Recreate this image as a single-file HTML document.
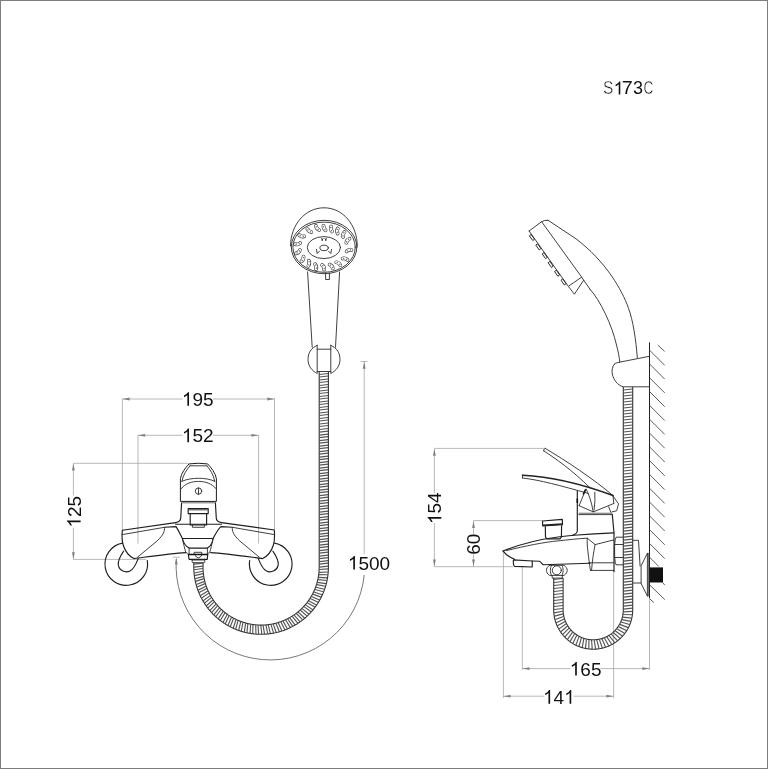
<!DOCTYPE html>
<html><head><meta charset="utf-8"><style>
html,body{margin:0;padding:0;background:#fff;}
svg{display:block;font-family:"Liberation Sans",sans-serif;will-change:transform;}
</style></head><body>
<svg width="768" height="769" viewBox="0 0 768 769">
<rect width="768" height="769" fill="#fff"/>
<rect x="0.5" y="0.5" width="767" height="768" fill="none" stroke="#7d7d7d" stroke-width="1"/>
<text x="603" y="94.4" font-size="18" fill="#111" stroke="#fff" stroke-width="0.4" transform="translate(603 0) scale(0.86 1) translate(-603 0)">S</text>
<path d="M620.31,94.40 L618.72,94.40 L618.72,84.32 C618.35,84.68 617.85,85.05 617.23,85.40 C616.61,85.77 616.05,86.04 615.56,86.23 L615.56,84.70 C616.45,84.28 617.22,83.78 617.88,83.20 C618.54,82.61 619.01,82.05 619.29,81.52 L620.31,81.52 Z" fill="#111"/>
<text x="621.8" y="94.4" font-size="18" fill="#111" transform="translate(621.8 0) scale(1.1 1) translate(-621.8 0)">7</text>
<text x="633.0" y="94.4" font-size="18" fill="#111">3</text>
<text x="643.5" y="94.4" font-size="18" fill="#111" stroke="#fff" stroke-width="0.4" transform="translate(643.5 0) scale(0.75 1) translate(-643.5 0)">C</text>
<path d="M122.4,398.5 V531 M274.5,398.5 V530 M122.4,399 H182.6 M212.9,399 H274.5" stroke="#a2a2a2" stroke-width="0.75" fill="none"/>
<path d="M122.60,399.00 L129.60,397.60 L129.60,400.40 Z" fill="#808080" stroke="none"/>
<path d="M274.30,399.00 L267.30,400.40 L267.30,397.60 Z" fill="#808080" stroke="none"/>
<g><path d="M189.03,405.80 L187.36,405.80 L187.36,395.16 C186.96,395.54 186.43,395.93 185.78,396.30 C185.12,396.69 184.54,396.98 184.02,397.17 L184.02,395.56 C184.96,395.12 185.77,394.59 186.47,393.98 C187.16,393.36 187.66,392.77 187.95,392.20 L189.03,392.20 Z" fill="#111"/><text x="192.52" y="405.8" font-size="19" fill="#111">9</text><text x="203.08" y="405.8" font-size="19" fill="#111">5</text></g>
<path d="M138,435 V543.6 M258.6,435 V543.6 M138,435.3 H182.6 M212.9,435.3 H258.6" stroke="#a2a2a2" stroke-width="0.75" fill="none"/>
<path d="M138.20,435.30 L145.20,433.90 L145.20,436.70 Z" fill="#808080" stroke="none"/>
<path d="M258.40,435.30 L251.40,436.70 L251.40,433.90 Z" fill="#808080" stroke="none"/>
<g><path d="M189.03,442.20 L187.36,442.20 L187.36,431.56 C186.96,431.94 186.43,432.33 185.78,432.70 C185.12,433.09 184.54,433.38 184.02,433.57 L184.02,431.96 C184.96,431.52 185.77,430.99 186.47,430.38 C187.16,429.76 187.66,429.17 187.95,428.60 L189.03,428.60 Z" fill="#111"/><text x="192.52" y="442.2" font-size="19" fill="#111">5</text><text x="203.08" y="442.2" font-size="19" fill="#111">2</text></g>
<path d="M73.4,463.3 V495.6 M73.4,527.7 V559.4 M73.4,463.3 H189 M73.4,559.4 H146" stroke="#a2a2a2" stroke-width="0.75" fill="none"/>
<path d="M73.40,463.50 L74.80,470.50 L72.00,470.50 Z" fill="#808080" stroke="none"/>
<path d="M73.40,559.20 L72.00,552.20 L74.80,552.20 Z" fill="#808080" stroke="none"/>
<g transform="rotate(-90 80.6 511.7)"><path d="M71.83,511.70 L70.16,511.70 L70.16,501.06 C69.76,501.44 69.23,501.83 68.58,502.20 C67.92,502.59 67.34,502.88 66.82,503.07 L66.82,501.46 C67.76,501.02 68.57,500.49 69.27,499.88 C69.96,499.26 70.46,498.67 70.75,498.10 L71.83,498.10 Z" fill="#111"/><text x="75.32" y="511.7" font-size="19" fill="#111">2</text><text x="85.88" y="511.7" font-size="19" fill="#111">5</text></g>
<path d="M364.2,361.5 V554 M360.8,361.5 H367.6" stroke="#a2a2a2" stroke-width="0.75" fill="none"/>
<path d="M364.20,361.80 L365.60,368.80 L362.80,368.80 Z" fill="#808080" stroke="none"/>
<path d="M364.22,575 A94.3,94.3 0 0 1 176.32,559" stroke="#555" stroke-width="0.8" fill="none"/>
<path d="M172.8,557.3 H179.8" stroke="#a2a2a2" stroke-width="0.75" fill="none"/>
<path d="M176.30,557.60 L177.70,564.60 L174.90,564.60 Z" fill="#808080" stroke="none"/>
<g><path d="M354.94,569.60 L353.27,569.60 L353.27,558.96 C352.88,559.34 352.35,559.73 351.70,560.10 C351.04,560.49 350.45,560.78 349.94,560.97 L349.94,559.36 C350.87,558.92 351.69,558.39 352.38,557.78 C353.08,557.16 353.58,556.57 353.87,556.00 L354.94,556.00 Z" fill="#111"/><text x="358.43" y="569.6" font-size="19" fill="#111">5</text><text x="369.00" y="569.6" font-size="19" fill="#111">0</text><text x="379.57" y="569.6" font-size="19" fill="#111">0</text></g>
<path d="M189.1,463.9 Q198.4,462.6 207.6,463.9 C211.5,468 215.4,473 216.4,478.6 L216.4,501.4 L180.4,501.4 L180.4,478.6 C181.4,473 185.2,468 189.1,463.9 Z" stroke="#1e1e1e" stroke-width="1.0" fill="none" stroke-linejoin="round"/>
<path d="M190,465.8 H206.9 M190,465.8 C186.5,470 183,475 181.9,481.2 M206.9,465.8 C210.5,470 213.6,475 214.7,481.2" stroke="#2a2a2a" stroke-width="0.9" fill="none" stroke-linejoin="round" stroke-linecap="round"/>
<path d="M181.9,481.3 C187,479 193,478.3 198.6,478.3 C204,478.3 210,479 214.8,481.3 M181.3,488.6 C185,483.5 192,481.4 198.6,481.4 C205,481.4 212,483.5 216,488.6" stroke="#2a2a2a" stroke-width="0.9" fill="none" stroke-linejoin="round" stroke-linecap="round"/>
<ellipse cx="198.5" cy="491.1" rx="3.2" ry="3.2" stroke="#2a2a2a" stroke-width="0.9" fill="none" stroke-linejoin="round" stroke-linecap="round"/><path d="M198.5,487.9 V494.3" stroke="#2a2a2a" stroke-width="0.9" fill="none" stroke-linejoin="round" stroke-linecap="round"/>
<path d="M182.3,502.8 H214.8" stroke="#444" stroke-width="0.8" fill="none"/>
<path d="M181.6,502.9 L180.7,518.4 Q180.4,521.8 175.6,522.6 M215.4,502.9 L216.3,518.4 Q216.6,521.8 221.4,522.6" stroke="#1e1e1e" stroke-width="1.15" fill="none" stroke-linejoin="round" stroke-linecap="round"/>
<path d="M188.2,508.6 H208.2 V513.6 H188.2 Z M190.2,513.6 V525 H206.6 V513.6" stroke="#1e1e1e" stroke-width="1.15" fill="none" stroke-linejoin="round" stroke-linecap="round"/>
<path d="M188.6,509.8 H207.8" stroke="#555" stroke-width="1.2" fill="none"/>
<path d="M192.4,525 V527.3 H204.4 V525" stroke="#2a2a2a" stroke-width="0.9" fill="none" stroke-linejoin="round" stroke-linecap="round"/>
<path d="M175.6,524.2 H221.4" stroke="#1e1e1e" stroke-width="1.15" fill="none" stroke-linejoin="round" stroke-linecap="round"/>
<path d="M164.5,527.3 L176.1,526.6 C178,529.5 180.5,535 182.4,538.5 H213.1 C215,535 217.6,529.5 220.9,526.6 L232.3,527.3" stroke="#1e1e1e" stroke-width="1.15" fill="none" stroke-linejoin="round" stroke-linecap="round"/>
<path d="M182.4,538.5 C183,541.5 185.5,546 189.1,548.1 H207.4 C211,546 212.6,541.5 213.1,538.5" stroke="#1e1e1e" stroke-width="1.15" fill="none" stroke-linejoin="round" stroke-linecap="round"/>
<path d="M182.6,539.5 C183.6,544 184.8,549 185.75,552.5 L187.4,553.3 M212.9,539.5 C211.9,544 210.7,549 209.75,552.5 L208.1,553.3" stroke="#2a2a2a" stroke-width="0.9" fill="none" stroke-linejoin="round" stroke-linecap="round"/>
<path d="M189.1,548.1 V554.2 M207.4,548.1 V554.2" stroke="#2a2a2a" stroke-width="0.9" fill="none" stroke-linejoin="round" stroke-linecap="round"/>
<path d="M188.25,554.2 H207.8 L207.2,559.4 H189.1 Z" stroke="#1e1e1e" stroke-width="1.15" fill="none" stroke-linejoin="round" stroke-linecap="round"/>
<path d="M188.4,554.6 H207.6" stroke="#111" stroke-width="1.3" fill="none"/>
<path d="M194.1,554 V552.3 H201.8 V554 M195,555.2 Q198.3,561 201.8,555.2" stroke="#2a2a2a" stroke-width="0.9" fill="none" stroke-linejoin="round" stroke-linecap="round"/>
<path d="M192.2,560 H204.7 Q205.2,562.7 204.2,562.7 H192.7 Q191.7,562.7 192.2,560 Z" stroke="#2a2a2a" stroke-width="0.9" fill="none" stroke-linejoin="round" stroke-linecap="round"/>
<path d="M175.6,522.6 L122.3,530.3 C121.8,536 122,541 123.2,545 C125,551 129,556 133.9,558.6 C150,556.5 170,553.5 185.8,552.6" stroke="#1e1e1e" stroke-width="1.15" fill="none" stroke-linejoin="round" stroke-linecap="round"/>
<path d="M122.3,534.6 L164.5,527.3 C164.8,531 163.5,535 157,541 L137.5,557.2" stroke="#2a2a2a" stroke-width="0.9" fill="none" stroke-linejoin="round" stroke-linecap="round"/>
<path d="M221.4,522.6 L274.3,530 C274.8,536 274.6,541 273.4,545 C271.6,551 267.6,556 262.7,558.6 C246.6,556.5 226.6,553.5 210.8,552.6" stroke="#1e1e1e" stroke-width="1.15" fill="none" stroke-linejoin="round" stroke-linecap="round"/>
<path d="M274.3,534.6 L232.3,527.3 C232,531 233.3,535 239.8,541 L259.3,557.2" stroke="#2a2a2a" stroke-width="0.9" fill="none" stroke-linejoin="round" stroke-linecap="round"/>
<path d="M122.4,543.1 A21.3,21.3 0 1 0 147.3,560.6" stroke="#1e1e1e" stroke-width="1.15" fill="none" stroke-linejoin="round" stroke-linecap="round"/>
<path d="M123.6,551.2 C121,555 117.4,560 118.4,565.4 C119.6,571 125.5,573 130,571 C134,569 136.5,563 138.2,558.6" stroke="#1e1e1e" stroke-width="1.15" fill="none" stroke-linejoin="round" stroke-linecap="round"/>
<path d="M274.6,543.1 A21.3,21.3 0 1 1 249.7,560.6" stroke="#1e1e1e" stroke-width="1.15" fill="none" stroke-linejoin="round" stroke-linecap="round"/>
<path d="M272.9,551.2 C275.5,555 279.1,560 278.1,565.4 C276.9,571 271,573 266.5,571 C262.5,569 260,563 258.3,558.6" stroke="#1e1e1e" stroke-width="1.15" fill="none" stroke-linejoin="round" stroke-linecap="round"/>
<path d="M194.10,564.10 L202.70,563.10 M194.10,567.10 L202.70,566.10 M194.15,569.75 L202.72,568.46 M194.36,572.95 L202.85,571.26 M194.65,575.61 L203.07,573.58 M195.14,578.78 L203.45,576.35 M195.66,581.40 L203.87,578.64 M196.43,584.52 L204.49,581.37 M197.18,587.09 L205.11,583.61 M198.21,590.12 L205.97,586.27 M199.19,592.61 L206.78,588.46 M200.48,595.55 L207.87,591.03 M201.67,597.94 L208.87,593.14 M203.22,600.75 L210.19,595.61 M204.61,603.04 L211.37,597.62 M206.40,605.70 L212.89,599.96 M207.99,607.85 L214.24,601.86 M210.01,610.35 L215.97,604.06 M211.78,612.35 L217.48,605.84 M214.01,614.66 L219.39,607.88 M215.95,616.50 L221.05,609.51 M218.37,618.61 L223.14,611.38 M220.46,620.27 L224.94,612.86 M223.06,622.15 L227.17,614.54 M225.29,623.63 L229.10,615.85 M228.04,625.28 L231.47,617.33 M230.39,626.55 L233.50,618.47 M233.28,627.95 L236.00,619.73 M235.73,629.01 L238.12,620.69 M238.73,630.16 L240.72,621.73 M241.27,631.00 L242.92,622.50 M244.35,631.88 L245.60,623.31 M246.96,632.49 L247.86,623.88 M250.11,633.09 L250.60,624.45 M252.75,633.48 L252.90,624.82 M255.95,633.80 L255.67,625.15 M258.62,633.96 L258.00,625.32 M261.82,634.00 L260.79,625.40 M264.50,633.92 L263.13,625.37 M267.70,633.68 L265.92,625.20 M270.35,633.36 L268.24,624.96 M273.52,632.84 L271.00,624.56 M276.13,632.29 L273.29,624.12 M279.24,631.50 L276.01,623.47 M281.80,630.72 L278.25,622.83 M284.83,629.66 L280.91,621.94 M287.31,628.66 L283.08,621.11 M290.23,627.34 L285.65,619.99 M292.62,626.13 L287.74,618.97 M294.95,624.82 L289.79,617.87 M297.68,623.14 L292.20,616.43 M299.89,621.63 L294.14,615.15 M302.46,619.71 L296.41,613.52 M304.53,618.02 L298.24,612.07 M306.92,615.88 L300.36,610.24 M308.84,614.01 L302.05,608.64 M311.03,611.67 L304.00,606.63 M312.78,609.65 L305.54,604.89 M314.76,607.12 L307.31,602.72 M316.32,604.95 L308.69,600.85 M318.07,602.26 L310.26,598.53 M319.43,599.96 L311.48,596.54 M320.94,597.13 L312.84,594.10 M322.10,594.72 L313.88,592.01 M323.36,591.77 L315.01,589.46 M324.29,589.26 L315.87,587.29 M325.29,586.21 L316.77,584.64 M326.00,583.64 L317.43,582.41 M326.73,580.51 L318.11,579.69 M327.21,577.88 L318.57,577.41 M327.66,574.70 L319.00,574.64 M327.91,572.04 L319.26,572.33 M328.08,568.84 L319.45,569.54 M328.10,566.19 L319.50,567.18 M328.10,563.18 L319.50,564.18 M328.10,560.68 L319.50,561.68 M328.10,557.68 L319.50,558.68 M328.10,555.18 L319.50,556.18 M328.10,552.17 L319.50,553.17 M328.10,549.67 L319.50,550.67 M328.10,546.67 L319.50,547.67 M328.10,544.16 L319.50,545.16 M328.10,541.16 L319.50,542.16 M328.10,538.66 L319.50,539.66 M328.10,535.66 L319.50,536.66 M328.10,533.15 L319.50,534.15 M328.10,530.15 L319.50,531.15 M328.10,527.65 L319.50,528.65 M328.10,524.65 L319.50,525.65 M328.10,522.14 L319.50,523.14 M328.10,519.14 L319.50,520.14 M328.10,516.64 L319.50,517.64 M328.10,513.64 L319.50,514.64 M328.10,511.13 L319.50,512.13 M328.10,508.13 L319.50,509.13 M328.10,505.63 L319.50,506.63 M328.10,502.62 L319.50,503.62 M328.10,500.12 L319.50,501.12 M328.10,497.12 L319.50,498.12 M328.10,494.62 L319.50,495.62 M328.10,491.61 L319.50,492.61 M328.10,489.11 L319.50,490.11 M328.10,486.11 L319.50,487.11 M328.10,483.61 L319.50,484.61 M328.10,480.60 L319.50,481.60 M328.10,478.10 L319.50,479.10 M328.10,475.10 L319.50,476.10 M328.10,472.60 L319.50,473.60 M328.10,469.59 L319.50,470.59 M328.10,467.09 L319.50,468.09 M328.10,464.09 L319.50,465.09 M328.10,461.59 L319.50,462.59 M328.10,458.58 L319.50,459.58 M328.10,456.08 L319.50,457.08 M328.10,453.08 L319.50,454.08 M328.10,450.58 L319.50,451.58 M328.10,447.57 L319.50,448.57 M328.10,445.07 L319.50,446.07 M328.10,442.07 L319.50,443.07 M328.10,439.56 L319.50,440.56 M328.10,436.56 L319.50,437.56 M328.10,434.06 L319.50,435.06 M328.10,431.06 L319.50,432.06 M328.10,428.55 L319.50,429.55 M328.10,425.55 L319.50,426.55 M328.10,423.05 L319.50,424.05 M328.10,420.05 L319.50,421.05 M328.10,417.54 L319.50,418.54 M328.10,414.54 L319.50,415.54 M328.10,412.04 L319.50,413.04 M328.10,409.04 L319.50,410.04 M328.10,406.53 L319.50,407.53 M328.10,403.53 L319.50,404.53 M328.10,401.03 L319.50,402.03 M328.10,398.03 L319.50,399.03 M328.10,395.52 L319.50,396.52 M328.10,392.52 L319.50,393.52 M328.10,390.02 L319.50,391.02 M328.10,387.01 L319.50,388.01 M328.10,384.51 L319.50,385.51 M328.10,381.51 L319.50,382.51 M328.10,379.01 L319.50,380.01 M328.10,376.00 L319.50,377.00 M328.10,373.50 L319.50,374.50" fill="none" stroke="#555" stroke-width="1.15"/>
<path d="M193.80,562.60 L193.80,563.10 L193.80,563.60 L193.80,564.10 L193.80,564.60 L193.80,565.10 L193.80,565.60 L193.80,566.10 L193.80,566.60 L193.80,567.12 L193.80,567.65 L193.81,568.19 L193.82,568.72 L193.84,569.26 L193.86,569.80 L193.88,570.33 L193.91,570.87 L193.94,571.41 L193.98,571.94 L194.02,572.48 L194.07,573.01 L194.12,573.55 L194.17,574.08 L194.23,574.62 L194.30,575.15 L194.36,575.68 L194.43,576.22 L194.51,576.75 L194.59,577.28 L194.67,577.81 L194.76,578.34 L194.85,578.87 L194.95,579.40 L195.05,579.92 L195.16,580.45 L195.27,580.98 L195.38,581.50 L195.50,582.03 L195.62,582.55 L195.75,583.07 L195.88,583.59 L196.01,584.11 L196.15,584.63 L196.29,585.15 L196.44,585.67 L196.59,586.18 L196.75,586.70 L196.91,587.21 L197.07,587.72 L197.24,588.23 L197.41,588.74 L197.58,589.25 L197.76,589.75 L197.95,590.26 L198.13,590.76 L198.33,591.26 L198.52,591.76 L198.72,592.26 L198.93,592.76 L199.13,593.26 L199.34,593.75 L199.56,594.24 L199.78,594.73 L200.00,595.22 L200.23,595.71 L200.46,596.19 L200.70,596.68 L200.93,597.16 L201.18,597.64 L201.42,598.11 L201.67,598.59 L201.93,599.06 L202.19,599.53 L202.45,600.00 L202.71,600.47 L202.98,600.93 L203.25,601.40 L203.53,601.86 L203.81,602.32 L204.09,602.77 L204.38,603.23 L204.67,603.68 L204.97,604.13 L205.27,604.57 L205.57,605.02 L205.87,605.46 L206.18,605.90 L206.49,606.34 L206.81,606.77 L207.13,607.20 L207.45,607.63 L207.78,608.06 L208.11,608.48 L208.44,608.91 L208.78,609.33 L209.11,609.74 L209.46,610.16 L209.80,610.57 L210.15,610.97 L210.51,611.38 L210.86,611.78 L211.22,612.18 L211.58,612.58 L211.95,612.97 L212.32,613.36 L212.69,613.75 L213.06,614.14 L213.44,614.52 L213.82,614.90 L214.21,615.27 L214.59,615.64 L214.98,616.01 L215.37,616.38 L215.77,616.74 L216.17,617.10 L216.57,617.46 L216.97,617.82 L217.38,618.17 L217.79,618.51 L218.20,618.86 L218.62,619.20 L219.04,619.54 L219.46,619.87 L219.88,620.20 L220.31,620.53 L220.74,620.85 L221.17,621.17 L221.60,621.49 L222.04,621.80 L222.48,622.11 L222.92,622.42 L223.36,622.72 L223.81,623.02 L224.25,623.32 L224.71,623.61 L225.16,623.90 L225.61,624.18 L226.07,624.47 L226.53,624.74 L226.99,625.02 L227.46,625.29 L227.92,625.55 L228.39,625.82 L228.86,626.08 L229.33,626.33 L229.81,626.58 L230.29,626.83 L230.76,627.08 L231.25,627.32 L231.73,627.55 L232.21,627.78 L232.70,628.01 L233.19,628.24 L233.68,628.46 L234.17,628.68 L234.66,628.89 L235.15,629.10 L235.65,629.30 L236.15,629.50 L236.65,629.70 L237.15,629.89 L237.65,630.08 L238.16,630.27 L238.66,630.45 L239.17,630.63 L239.68,630.80 L240.19,630.97 L240.70,631.13 L241.21,631.29 L241.73,631.45 L242.24,631.60 L242.76,631.75 L243.28,631.90 L243.79,632.04 L244.31,632.17 L244.83,632.30 L245.36,632.43 L245.88,632.56 L246.40,632.68 L246.93,632.79 L247.45,632.90 L247.98,633.01 L248.51,633.11 L249.03,633.21 L249.56,633.30 L250.09,633.39 L250.62,633.48 L251.15,633.56 L251.69,633.64 L252.22,633.71 L252.75,633.78 L253.28,633.84 L253.82,633.90 L254.35,633.96 L254.89,634.01 L255.42,634.06 L255.96,634.10 L256.49,634.14 L257.03,634.18 L257.57,634.21 L258.10,634.23 L258.64,634.25 L259.18,634.27 L259.71,634.29 L260.25,634.29 L260.79,634.30 L261.32,634.30 L261.86,634.30 L262.40,634.29 L262.94,634.27 L263.47,634.26 L264.01,634.24 L264.55,634.21 L265.08,634.18 L265.62,634.15 L266.15,634.11 L266.69,634.07 L267.23,634.02 L267.76,633.97 L268.29,633.91 L268.83,633.85 L269.36,633.79 L269.89,633.72 L270.43,633.65 L270.96,633.57 L271.49,633.49 L272.02,633.41 L272.55,633.32 L273.08,633.23 L273.61,633.13 L274.13,633.03 L274.66,632.92 L275.19,632.81 L275.71,632.69 L276.24,632.58 L276.76,632.45 L277.28,632.33 L277.80,632.19 L278.32,632.06 L278.84,631.92 L279.36,631.78 L279.87,631.63 L280.39,631.48 L280.90,631.32 L281.42,631.16 L281.93,631.00 L282.44,630.83 L282.95,630.66 L283.45,630.48 L283.96,630.30 L284.46,630.11 L284.97,629.93 L285.47,629.73 L285.97,629.54 L286.47,629.34 L286.96,629.13 L287.46,628.92 L287.95,628.71 L288.44,628.49 L288.93,628.27 L289.42,628.05 L289.91,627.82 L290.39,627.59 L290.88,627.35 L291.36,627.11 L291.84,626.87 L292.31,626.62 L292.79,626.37 L293.26,626.12 L293.73,625.86 L294.20,625.60 L294.67,625.33 L295.13,625.06 L295.59,624.79 L296.05,624.51 L296.51,624.23 L296.97,623.95 L297.42,623.66 L297.87,623.37 L298.32,623.07 L298.77,622.77 L299.21,622.47 L299.65,622.16 L300.09,621.85 L300.53,621.54 L300.96,621.22 L301.39,620.90 L301.82,620.58 L302.25,620.25 L302.67,619.92 L303.09,619.59 L303.51,619.25 L303.93,618.91 L304.34,618.57 L304.75,618.22 L305.16,617.87 L305.56,617.52 L305.97,617.16 L306.36,616.80 L306.76,616.44 L307.15,616.07 L307.54,615.71 L307.93,615.33 L308.32,614.96 L308.70,614.58 L309.08,614.20 L309.45,613.81 L309.82,613.43 L310.19,613.04 L310.56,612.64 L310.92,612.25 L311.28,611.85 L311.64,611.45 L311.99,611.04 L312.34,610.63 L312.69,610.22 L313.03,609.81 L313.37,609.39 L313.71,608.97 L314.04,608.55 L314.37,608.13 L314.70,607.70 L315.02,607.27 L315.34,606.84 L315.66,606.41 L315.97,605.97 L316.28,605.53 L316.58,605.09 L316.89,604.65 L317.18,604.20 L317.48,603.75 L317.77,603.30 L318.06,602.85 L318.34,602.39 L318.62,601.93 L318.90,601.47 L319.17,601.01 L319.44,600.55 L319.71,600.08 L319.97,599.61 L320.23,599.14 L320.48,598.67 L320.74,598.19 L320.98,597.71 L321.23,597.23 L321.47,596.75 L321.70,596.27 L321.93,595.79 L322.16,595.30 L322.38,594.81 L322.60,594.32 L322.82,593.83 L323.03,593.34 L323.24,592.84 L323.45,592.34 L323.65,591.85 L323.84,591.35 L324.03,590.84 L324.22,590.34 L324.41,589.84 L324.59,589.33 L324.76,588.82 L324.94,588.31 L325.10,587.80 L325.27,587.29 L325.43,586.78 L325.58,586.27 L325.74,585.75 L325.88,585.23 L326.03,584.72 L326.17,584.20 L326.30,583.68 L326.43,583.16 L326.56,582.63 L326.68,582.11 L326.80,581.59 L326.91,581.06 L327.02,580.54 L327.13,580.01 L327.23,579.48 L327.33,578.95 L327.42,578.43 L327.51,577.90 L327.60,577.36 L327.68,576.83 L327.75,576.30 L327.83,575.77 L327.89,575.24 L327.96,574.70 L328.02,574.17 L328.07,573.64 L328.12,573.10 L328.17,572.57 L328.21,572.03 L328.25,571.49 L328.28,570.96 L328.31,570.42 L328.34,569.88 L328.36,569.35 L328.38,568.81 L328.39,568.27 L328.40,567.74 L328.40,567.20 L328.40,566.69 L328.40,566.19 L328.40,565.68 L328.40,565.18 L328.40,564.68 L328.40,564.18 L328.40,563.68 L328.40,563.18 L328.40,562.68 L328.40,562.18 L328.40,561.68 L328.40,561.18 L328.40,560.68 L328.40,560.18 L328.40,559.68 L328.40,559.18 L328.40,558.68 L328.40,558.18 L328.40,557.68 L328.40,557.18 L328.40,556.68 L328.40,556.18 L328.40,555.68 L328.40,555.17 L328.40,554.67 L328.40,554.17 L328.40,553.67 L328.40,553.17 L328.40,552.67 L328.40,552.17 L328.40,551.67 L328.40,551.17 L328.40,550.67 L328.40,550.17 L328.40,549.67 L328.40,549.17 L328.40,548.67 L328.40,548.17 L328.40,547.67 L328.40,547.17 L328.40,546.67 L328.40,546.17 L328.40,545.67 L328.40,545.17 L328.40,544.66 L328.40,544.16 L328.40,543.66 L328.40,543.16 L328.40,542.66 L328.40,542.16 L328.40,541.66 L328.40,541.16 L328.40,540.66 L328.40,540.16 L328.40,539.66 L328.40,539.16 L328.40,538.66 L328.40,538.16 L328.40,537.66 L328.40,537.16 L328.40,536.66 L328.40,536.16 L328.40,535.66 L328.40,535.16 L328.40,534.66 L328.40,534.15 L328.40,533.65 L328.40,533.15 L328.40,532.65 L328.40,532.15 L328.40,531.65 L328.40,531.15 L328.40,530.65 L328.40,530.15 L328.40,529.65 L328.40,529.15 L328.40,528.65 L328.40,528.15 L328.40,527.65 L328.40,527.15 L328.40,526.65 L328.40,526.15 L328.40,525.65 L328.40,525.15 L328.40,524.65 L328.40,524.15 L328.40,523.64 L328.40,523.14 L328.40,522.64 L328.40,522.14 L328.40,521.64 L328.40,521.14 L328.40,520.64 L328.40,520.14 L328.40,519.64 L328.40,519.14 L328.40,518.64 L328.40,518.14 L328.40,517.64 L328.40,517.14 L328.40,516.64 L328.40,516.14 L328.40,515.64 L328.40,515.14 L328.40,514.64 L328.40,514.14 L328.40,513.64 L328.40,513.13 L328.40,512.63 L328.40,512.13 L328.40,511.63 L328.40,511.13 L328.40,510.63 L328.40,510.13 L328.40,509.63 L328.40,509.13 L328.40,508.63 L328.40,508.13 L328.40,507.63 L328.40,507.13 L328.40,506.63 L328.40,506.13 L328.40,505.63 L328.40,505.13 L328.40,504.63 L328.40,504.13 L328.40,503.63 L328.40,503.12 L328.40,502.62 L328.40,502.12 L328.40,501.62 L328.40,501.12 L328.40,500.62 L328.40,500.12 L328.40,499.62 L328.40,499.12 L328.40,498.62 L328.40,498.12 L328.40,497.62 L328.40,497.12 L328.40,496.62 L328.40,496.12 L328.40,495.62 L328.40,495.12 L328.40,494.62 L328.40,494.12 L328.40,493.62 L328.40,493.12 L328.40,492.61 L328.40,492.11 L328.40,491.61 L328.40,491.11 L328.40,490.61 L328.40,490.11 L328.40,489.61 L328.40,489.11 L328.40,488.61 L328.40,488.11 L328.40,487.61 L328.40,487.11 L328.40,486.61 L328.40,486.11 L328.40,485.61 L328.40,485.11 L328.40,484.61 L328.40,484.11 L328.40,483.61 L328.40,483.11 L328.40,482.61 L328.40,482.10 L328.40,481.60 L328.40,481.10 L328.40,480.60 L328.40,480.10 L328.40,479.60 L328.40,479.10 L328.40,478.60 L328.40,478.10 L328.40,477.60 L328.40,477.10 L328.40,476.60 L328.40,476.10 L328.40,475.60 L328.40,475.10 L328.40,474.60 L328.40,474.10 L328.40,473.60 L328.40,473.10 L328.40,472.60 L328.40,472.10 L328.40,471.59 L328.40,471.09 L328.40,470.59 L328.40,470.09 L328.40,469.59 L328.40,469.09 L328.40,468.59 L328.40,468.09 L328.40,467.59 L328.40,467.09 L328.40,466.59 L328.40,466.09 L328.40,465.59 L328.40,465.09 L328.40,464.59 L328.40,464.09 L328.40,463.59 L328.40,463.09 L328.40,462.59 L328.40,462.09 L328.40,461.59 L328.40,461.08 L328.40,460.58 L328.40,460.08 L328.40,459.58 L328.40,459.08 L328.40,458.58 L328.40,458.08 L328.40,457.58 L328.40,457.08 L328.40,456.58 L328.40,456.08 L328.40,455.58 L328.40,455.08 L328.40,454.58 L328.40,454.08 L328.40,453.58 L328.40,453.08 L328.40,452.58 L328.40,452.08 L328.40,451.58 L328.40,451.08 L328.40,450.57 L328.40,450.07 L328.40,449.57 L328.40,449.07 L328.40,448.57 L328.40,448.07 L328.40,447.57 L328.40,447.07 L328.40,446.57 L328.40,446.07 L328.40,445.57 L328.40,445.07 L328.40,444.57 L328.40,444.07 L328.40,443.57 L328.40,443.07 L328.40,442.57 L328.40,442.07 L328.40,441.57 L328.40,441.07 L328.40,440.57 L328.40,440.06 L328.40,439.56 L328.40,439.06 L328.40,438.56 L328.40,438.06 L328.40,437.56 L328.40,437.06 L328.40,436.56 L328.40,436.06 L328.40,435.56 L328.40,435.06 L328.40,434.56 L328.40,434.06 L328.40,433.56 L328.40,433.06 L328.40,432.56 L328.40,432.06 L328.40,431.56 L328.40,431.06 L328.40,430.56 L328.40,430.06 L328.40,429.55 L328.40,429.05 L328.40,428.55 L328.40,428.05 L328.40,427.55 L328.40,427.05 L328.40,426.55 L328.40,426.05 L328.40,425.55 L328.40,425.05 L328.40,424.55 L328.40,424.05 L328.40,423.55 L328.40,423.05 L328.40,422.55 L328.40,422.05 L328.40,421.55 L328.40,421.05 L328.40,420.55 L328.40,420.05 L328.40,419.55 L328.40,419.04 L328.40,418.54 L328.40,418.04 L328.40,417.54 L328.40,417.04 L328.40,416.54 L328.40,416.04 L328.40,415.54 L328.40,415.04 L328.40,414.54 L328.40,414.04 L328.40,413.54 L328.40,413.04 L328.40,412.54 L328.40,412.04 L328.40,411.54 L328.40,411.04 L328.40,410.54 L328.40,410.04 L328.40,409.54 L328.40,409.04 L328.40,408.53 L328.40,408.03 L328.40,407.53 L328.40,407.03 L328.40,406.53 L328.40,406.03 L328.40,405.53 L328.40,405.03 L328.40,404.53 L328.40,404.03 L328.40,403.53 L328.40,403.03 L328.40,402.53 L328.40,402.03 L328.40,401.53 L328.40,401.03 L328.40,400.53 L328.40,400.03 L328.40,399.53 L328.40,399.03 L328.40,398.53 L328.40,398.02 L328.40,397.52 L328.40,397.02 L328.40,396.52 L328.40,396.02 L328.40,395.52 L328.40,395.02 L328.40,394.52 L328.40,394.02 L328.40,393.52 L328.40,393.02 L328.40,392.52 L328.40,392.02 L328.40,391.52 L328.40,391.02 L328.40,390.52 L328.40,390.02 L328.40,389.52 L328.40,389.02 L328.40,388.52 L328.40,388.02 L328.40,387.51 L328.40,387.01 L328.40,386.51 L328.40,386.01 L328.40,385.51 L328.40,385.01 L328.40,384.51 L328.40,384.01 L328.40,383.51 L328.40,383.01 L328.40,382.51 L328.40,382.01 L328.40,381.51 L328.40,381.01 L328.40,380.51 L328.40,380.01 L328.40,379.51 L328.40,379.01 L328.40,378.51 L328.40,378.01 L328.40,377.51 L328.40,377.00 L328.40,376.50 L328.40,376.00 L328.40,375.50 L328.40,375.00 L328.40,374.50 L328.40,374.00 L328.40,373.50 L328.40,373.00 L328.40,372.50 L328.40,372.00" fill="none" stroke="#333" stroke-width="1.1"/>
<path d="M203.00,562.60 L203.00,563.10 L203.00,563.60 L203.00,564.10 L203.00,564.60 L203.00,565.10 L203.00,565.60 L203.00,566.10 L203.00,566.60 L203.00,567.09 L203.00,567.56 L203.01,568.02 L203.02,568.49 L203.03,568.95 L203.05,569.41 L203.07,569.88 L203.10,570.34 L203.12,570.80 L203.16,571.27 L203.19,571.73 L203.23,572.19 L203.28,572.65 L203.32,573.11 L203.37,573.58 L203.43,574.04 L203.49,574.50 L203.55,574.96 L203.61,575.41 L203.68,575.87 L203.75,576.33 L203.83,576.79 L203.91,577.25 L203.99,577.70 L204.08,578.16 L204.17,578.61 L204.27,579.07 L204.36,579.52 L204.47,579.97 L204.57,580.42 L204.68,580.87 L204.79,581.32 L204.91,581.77 L205.03,582.22 L205.15,582.67 L205.28,583.11 L205.41,583.56 L205.54,584.00 L205.68,584.45 L205.82,584.89 L205.97,585.33 L206.11,585.77 L206.27,586.21 L206.42,586.64 L206.58,587.08 L206.74,587.51 L206.91,587.95 L207.08,588.38 L207.25,588.81 L207.42,589.24 L207.60,589.67 L207.79,590.09 L207.97,590.52 L208.16,590.94 L208.35,591.36 L208.55,591.78 L208.75,592.20 L208.95,592.62 L209.16,593.03 L209.37,593.45 L209.58,593.86 L209.80,594.27 L210.02,594.68 L210.24,595.09 L210.47,595.49 L210.69,595.89 L210.93,596.30 L211.16,596.69 L211.40,597.09 L211.64,597.49 L211.89,597.88 L212.14,598.27 L212.39,598.66 L212.64,599.05 L212.90,599.44 L213.16,599.82 L213.42,600.20 L213.69,600.58 L213.96,600.96 L214.23,601.33 L214.51,601.71 L214.78,602.08 L215.07,602.45 L215.35,602.81 L215.64,603.18 L215.93,603.54 L216.22,603.90 L216.52,604.26 L216.82,604.61 L217.12,604.96 L217.42,605.31 L217.73,605.66 L218.04,606.00 L218.35,606.35 L218.67,606.69 L218.99,607.02 L219.31,607.36 L219.63,607.69 L219.96,608.02 L220.28,608.35 L220.62,608.67 L220.95,609.00 L221.29,609.31 L221.63,609.63 L221.97,609.94 L222.31,610.26 L222.66,610.56 L223.01,610.87 L223.36,611.17 L223.71,611.47 L224.07,611.77 L224.43,612.06 L224.79,612.35 L225.15,612.64 L225.52,612.93 L225.88,613.21 L226.25,613.49 L226.63,613.77 L227.00,614.04 L227.38,614.31 L227.76,614.58 L228.14,614.84 L228.52,615.11 L228.90,615.36 L229.29,615.62 L229.68,615.87 L230.07,616.12 L230.46,616.37 L230.86,616.61 L231.26,616.85 L231.66,617.09 L232.06,617.32 L232.46,617.55 L232.86,617.78 L233.27,618.00 L233.68,618.22 L234.09,618.44 L234.50,618.65 L234.91,618.86 L235.33,619.07 L235.74,619.27 L236.16,619.48 L236.58,619.67 L237.00,619.87 L237.42,620.06 L237.85,620.24 L238.27,620.43 L238.70,620.61 L239.13,620.79 L239.56,620.96 L239.99,621.13 L240.42,621.30 L240.86,621.46 L241.29,621.62 L241.73,621.78 L242.17,621.93 L242.61,622.08 L243.05,622.22 L243.49,622.37 L243.93,622.51 L244.37,622.64 L244.82,622.77 L245.27,622.90 L245.71,623.03 L246.16,623.15 L246.61,623.26 L247.06,623.38 L247.51,623.49 L247.96,623.59 L248.41,623.70 L248.86,623.80 L249.32,623.89 L249.77,623.99 L250.23,624.07 L250.68,624.16 L251.14,624.24 L251.60,624.32 L252.06,624.39 L252.51,624.46 L252.97,624.53 L253.43,624.59 L253.89,624.65 L254.35,624.71 L254.81,624.76 L255.27,624.81 L255.74,624.85 L256.20,624.89 L256.66,624.93 L257.12,624.96 L257.59,624.99 L258.05,625.02 L258.51,625.04 L258.98,625.06 L259.44,625.08 L259.90,625.09 L260.37,625.10 L260.83,625.10 L261.29,625.10 L261.76,625.10 L262.22,625.09 L262.69,625.08 L263.15,625.06 L263.61,625.05 L264.08,625.02 L264.54,625.00 L265.00,624.97 L265.46,624.94 L265.93,624.90 L266.39,624.86 L266.85,624.81 L267.31,624.77 L267.77,624.72 L268.23,624.66 L268.69,624.60 L269.15,624.54 L269.61,624.47 L270.07,624.40 L270.53,624.33 L270.98,624.25 L271.44,624.17 L271.90,624.09 L272.35,624.00 L272.81,623.91 L273.26,623.81 L273.71,623.71 L274.17,623.61 L274.62,623.51 L275.07,623.40 L275.52,623.28 L275.97,623.17 L276.41,623.05 L276.86,622.92 L277.31,622.79 L277.75,622.66 L278.20,622.53 L278.64,622.39 L279.08,622.25 L279.52,622.10 L279.96,621.95 L280.40,621.80 L280.83,621.65 L281.27,621.49 L281.70,621.32 L282.14,621.16 L282.57,620.99 L283.00,620.81 L283.43,620.64 L283.86,620.46 L284.28,620.27 L284.71,620.09 L285.13,619.90 L285.55,619.70 L285.97,619.51 L286.39,619.31 L286.81,619.10 L287.22,618.90 L287.63,618.69 L288.05,618.47 L288.46,618.26 L288.86,618.04 L289.27,617.81 L289.68,617.59 L290.08,617.36 L290.48,617.12 L290.88,616.89 L291.28,616.65 L291.67,616.41 L292.06,616.16 L292.46,615.91 L292.85,615.66 L293.23,615.41 L293.62,615.15 L294.00,614.89 L294.38,614.62 L294.76,614.36 L295.14,614.08 L295.51,613.81 L295.89,613.54 L296.26,613.26 L296.62,612.97 L296.99,612.69 L297.35,612.40 L297.71,612.11 L298.07,611.82 L298.43,611.52 L298.78,611.22 L299.14,610.92 L299.49,610.61 L299.83,610.31 L300.18,610.00 L300.52,609.68 L300.86,609.37 L301.20,609.05 L301.53,608.73 L301.86,608.40 L302.19,608.08 L302.52,607.75 L302.84,607.41 L303.16,607.08 L303.48,606.74 L303.80,606.40 L304.11,606.06 L304.42,605.72 L304.73,605.37 L305.03,605.02 L305.33,604.67 L305.63,604.31 L305.93,603.96 L306.22,603.60 L306.51,603.24 L306.80,602.87 L307.09,602.51 L307.37,602.14 L307.65,601.77 L307.92,601.40 L308.20,601.02 L308.47,600.64 L308.73,600.26 L309.00,599.88 L309.26,599.50 L309.52,599.11 L309.77,598.73 L310.02,598.34 L310.27,597.95 L310.52,597.55 L310.76,597.16 L311.00,596.76 L311.24,596.36 L311.47,595.96 L311.70,595.56 L311.92,595.15 L312.15,594.75 L312.37,594.34 L312.58,593.93 L312.80,593.52 L313.01,593.10 L313.21,592.69 L313.42,592.27 L313.62,591.85 L313.81,591.43 L314.01,591.01 L314.20,590.59 L314.38,590.16 L314.57,589.74 L314.75,589.31 L314.92,588.88 L315.10,588.45 L315.27,588.02 L315.43,587.58 L315.59,587.15 L315.75,586.71 L315.91,586.28 L316.06,585.84 L316.21,585.40 L316.35,584.96 L316.50,584.52 L316.63,584.08 L316.77,583.63 L316.90,583.19 L317.03,582.74 L317.15,582.29 L317.27,581.85 L317.39,581.40 L317.50,580.95 L317.61,580.50 L317.72,580.05 L317.82,579.59 L317.92,579.14 L318.01,578.69 L318.10,578.23 L318.19,577.78 L318.28,577.32 L318.36,576.86 L318.43,576.41 L318.51,575.95 L318.58,575.49 L318.64,575.03 L318.70,574.57 L318.76,574.11 L318.82,573.65 L318.87,573.19 L318.92,572.73 L318.96,572.27 L319.00,571.80 L319.04,571.34 L319.07,570.88 L319.10,570.42 L319.12,569.95 L319.15,569.49 L319.16,569.03 L319.18,568.56 L319.19,568.10 L319.20,567.64 L319.20,567.17 L319.20,566.68 L319.20,566.19 L319.20,565.68 L319.20,565.18 L319.20,564.68 L319.20,564.18 L319.20,563.68 L319.20,563.18 L319.20,562.68 L319.20,562.18 L319.20,561.68 L319.20,561.18 L319.20,560.68 L319.20,560.18 L319.20,559.68 L319.20,559.18 L319.20,558.68 L319.20,558.18 L319.20,557.68 L319.20,557.18 L319.20,556.68 L319.20,556.18 L319.20,555.68 L319.20,555.17 L319.20,554.67 L319.20,554.17 L319.20,553.67 L319.20,553.17 L319.20,552.67 L319.20,552.17 L319.20,551.67 L319.20,551.17 L319.20,550.67 L319.20,550.17 L319.20,549.67 L319.20,549.17 L319.20,548.67 L319.20,548.17 L319.20,547.67 L319.20,547.17 L319.20,546.67 L319.20,546.17 L319.20,545.67 L319.20,545.17 L319.20,544.66 L319.20,544.16 L319.20,543.66 L319.20,543.16 L319.20,542.66 L319.20,542.16 L319.20,541.66 L319.20,541.16 L319.20,540.66 L319.20,540.16 L319.20,539.66 L319.20,539.16 L319.20,538.66 L319.20,538.16 L319.20,537.66 L319.20,537.16 L319.20,536.66 L319.20,536.16 L319.20,535.66 L319.20,535.16 L319.20,534.66 L319.20,534.15 L319.20,533.65 L319.20,533.15 L319.20,532.65 L319.20,532.15 L319.20,531.65 L319.20,531.15 L319.20,530.65 L319.20,530.15 L319.20,529.65 L319.20,529.15 L319.20,528.65 L319.20,528.15 L319.20,527.65 L319.20,527.15 L319.20,526.65 L319.20,526.15 L319.20,525.65 L319.20,525.15 L319.20,524.65 L319.20,524.15 L319.20,523.64 L319.20,523.14 L319.20,522.64 L319.20,522.14 L319.20,521.64 L319.20,521.14 L319.20,520.64 L319.20,520.14 L319.20,519.64 L319.20,519.14 L319.20,518.64 L319.20,518.14 L319.20,517.64 L319.20,517.14 L319.20,516.64 L319.20,516.14 L319.20,515.64 L319.20,515.14 L319.20,514.64 L319.20,514.14 L319.20,513.64 L319.20,513.13 L319.20,512.63 L319.20,512.13 L319.20,511.63 L319.20,511.13 L319.20,510.63 L319.20,510.13 L319.20,509.63 L319.20,509.13 L319.20,508.63 L319.20,508.13 L319.20,507.63 L319.20,507.13 L319.20,506.63 L319.20,506.13 L319.20,505.63 L319.20,505.13 L319.20,504.63 L319.20,504.13 L319.20,503.63 L319.20,503.12 L319.20,502.62 L319.20,502.12 L319.20,501.62 L319.20,501.12 L319.20,500.62 L319.20,500.12 L319.20,499.62 L319.20,499.12 L319.20,498.62 L319.20,498.12 L319.20,497.62 L319.20,497.12 L319.20,496.62 L319.20,496.12 L319.20,495.62 L319.20,495.12 L319.20,494.62 L319.20,494.12 L319.20,493.62 L319.20,493.12 L319.20,492.61 L319.20,492.11 L319.20,491.61 L319.20,491.11 L319.20,490.61 L319.20,490.11 L319.20,489.61 L319.20,489.11 L319.20,488.61 L319.20,488.11 L319.20,487.61 L319.20,487.11 L319.20,486.61 L319.20,486.11 L319.20,485.61 L319.20,485.11 L319.20,484.61 L319.20,484.11 L319.20,483.61 L319.20,483.11 L319.20,482.61 L319.20,482.10 L319.20,481.60 L319.20,481.10 L319.20,480.60 L319.20,480.10 L319.20,479.60 L319.20,479.10 L319.20,478.60 L319.20,478.10 L319.20,477.60 L319.20,477.10 L319.20,476.60 L319.20,476.10 L319.20,475.60 L319.20,475.10 L319.20,474.60 L319.20,474.10 L319.20,473.60 L319.20,473.10 L319.20,472.60 L319.20,472.10 L319.20,471.59 L319.20,471.09 L319.20,470.59 L319.20,470.09 L319.20,469.59 L319.20,469.09 L319.20,468.59 L319.20,468.09 L319.20,467.59 L319.20,467.09 L319.20,466.59 L319.20,466.09 L319.20,465.59 L319.20,465.09 L319.20,464.59 L319.20,464.09 L319.20,463.59 L319.20,463.09 L319.20,462.59 L319.20,462.09 L319.20,461.59 L319.20,461.08 L319.20,460.58 L319.20,460.08 L319.20,459.58 L319.20,459.08 L319.20,458.58 L319.20,458.08 L319.20,457.58 L319.20,457.08 L319.20,456.58 L319.20,456.08 L319.20,455.58 L319.20,455.08 L319.20,454.58 L319.20,454.08 L319.20,453.58 L319.20,453.08 L319.20,452.58 L319.20,452.08 L319.20,451.58 L319.20,451.08 L319.20,450.57 L319.20,450.07 L319.20,449.57 L319.20,449.07 L319.20,448.57 L319.20,448.07 L319.20,447.57 L319.20,447.07 L319.20,446.57 L319.20,446.07 L319.20,445.57 L319.20,445.07 L319.20,444.57 L319.20,444.07 L319.20,443.57 L319.20,443.07 L319.20,442.57 L319.20,442.07 L319.20,441.57 L319.20,441.07 L319.20,440.57 L319.20,440.06 L319.20,439.56 L319.20,439.06 L319.20,438.56 L319.20,438.06 L319.20,437.56 L319.20,437.06 L319.20,436.56 L319.20,436.06 L319.20,435.56 L319.20,435.06 L319.20,434.56 L319.20,434.06 L319.20,433.56 L319.20,433.06 L319.20,432.56 L319.20,432.06 L319.20,431.56 L319.20,431.06 L319.20,430.56 L319.20,430.06 L319.20,429.55 L319.20,429.05 L319.20,428.55 L319.20,428.05 L319.20,427.55 L319.20,427.05 L319.20,426.55 L319.20,426.05 L319.20,425.55 L319.20,425.05 L319.20,424.55 L319.20,424.05 L319.20,423.55 L319.20,423.05 L319.20,422.55 L319.20,422.05 L319.20,421.55 L319.20,421.05 L319.20,420.55 L319.20,420.05 L319.20,419.55 L319.20,419.04 L319.20,418.54 L319.20,418.04 L319.20,417.54 L319.20,417.04 L319.20,416.54 L319.20,416.04 L319.20,415.54 L319.20,415.04 L319.20,414.54 L319.20,414.04 L319.20,413.54 L319.20,413.04 L319.20,412.54 L319.20,412.04 L319.20,411.54 L319.20,411.04 L319.20,410.54 L319.20,410.04 L319.20,409.54 L319.20,409.04 L319.20,408.53 L319.20,408.03 L319.20,407.53 L319.20,407.03 L319.20,406.53 L319.20,406.03 L319.20,405.53 L319.20,405.03 L319.20,404.53 L319.20,404.03 L319.20,403.53 L319.20,403.03 L319.20,402.53 L319.20,402.03 L319.20,401.53 L319.20,401.03 L319.20,400.53 L319.20,400.03 L319.20,399.53 L319.20,399.03 L319.20,398.53 L319.20,398.02 L319.20,397.52 L319.20,397.02 L319.20,396.52 L319.20,396.02 L319.20,395.52 L319.20,395.02 L319.20,394.52 L319.20,394.02 L319.20,393.52 L319.20,393.02 L319.20,392.52 L319.20,392.02 L319.20,391.52 L319.20,391.02 L319.20,390.52 L319.20,390.02 L319.20,389.52 L319.20,389.02 L319.20,388.52 L319.20,388.02 L319.20,387.51 L319.20,387.01 L319.20,386.51 L319.20,386.01 L319.20,385.51 L319.20,385.01 L319.20,384.51 L319.20,384.01 L319.20,383.51 L319.20,383.01 L319.20,382.51 L319.20,382.01 L319.20,381.51 L319.20,381.01 L319.20,380.51 L319.20,380.01 L319.20,379.51 L319.20,379.01 L319.20,378.51 L319.20,378.01 L319.20,377.51 L319.20,377.00 L319.20,376.50 L319.20,376.00 L319.20,375.50 L319.20,375.00 L319.20,374.50 L319.20,374.00 L319.20,373.50 L319.20,373.00 L319.20,372.50 L319.20,372.00" fill="none" stroke="#333" stroke-width="1.1"/>
<path d="M317.2,345.3 C311,348 308,353 308,359.5 C308,366 312,371 317.2,373.5 M330.8,345.3 C337,348 340,353 340,359.5 C340,366 336,371 330.8,373.5" stroke="#2a2a2a" stroke-width="0.9" fill="none" stroke-linejoin="round" stroke-linecap="round"/>
<path d="M317.2,345.3 V372.5 M330.8,345.3 V372.5 M317.2,349.2 H330.8 M317.2,371.5 H330.8" stroke="#2a2a2a" stroke-width="0.9" fill="none" stroke-linejoin="round" stroke-linecap="round"/>
<path d="M307.6,272 L312.2,347.2 M339.6,272 L335.5,347.2" stroke="#2a2a2a" stroke-width="0.9" fill="none" stroke-linejoin="round" stroke-linecap="round"/>
<path d="M325.6,273 V279.5 H329.4 V273" stroke="#2a2a2a" stroke-width="0.9" fill="none" stroke-linejoin="round" stroke-linecap="round"/>
<g transform="translate(317.10 228.20) rotate(-127.2)"><path d="M-2.5,0.5 Q0,-0.9 2.5,0.5" stroke="#3a3a3a" stroke-width="3.7" stroke-linecap="round" fill="none"/><path d="M-2.5,0.5 Q0,-0.9 2.5,0.5" stroke="#fff" stroke-width="2.5" stroke-linecap="round" fill="none"/><circle cx="-1.6" cy="0.1" r="0.75" fill="#777"/><circle cx="1.6" cy="0.1" r="0.75" fill="#777"/></g>
<g transform="translate(324.10 228.20) rotate(-114.8)"><path d="M-2.5,0.5 Q0,-0.9 2.5,0.5" stroke="#3a3a3a" stroke-width="3.7" stroke-linecap="round" fill="none"/><path d="M-2.5,0.5 Q0,-0.9 2.5,0.5" stroke="#fff" stroke-width="2.5" stroke-linecap="round" fill="none"/><circle cx="-1.6" cy="0.1" r="0.75" fill="#777"/><circle cx="1.6" cy="0.1" r="0.75" fill="#777"/></g>
<g transform="translate(331.10 229.10) rotate(-101.9)"><path d="M-2.5,0.5 Q0,-0.9 2.5,0.5" stroke="#3a3a3a" stroke-width="3.7" stroke-linecap="round" fill="none"/><path d="M-2.5,0.5 Q0,-0.9 2.5,0.5" stroke="#fff" stroke-width="2.5" stroke-linecap="round" fill="none"/><circle cx="-1.6" cy="0.1" r="0.75" fill="#777"/><circle cx="1.6" cy="0.1" r="0.75" fill="#777"/></g>
<g transform="translate(337.20 231.00) rotate(-89.3)"><path d="M-2.5,0.5 Q0,-0.9 2.5,0.5" stroke="#3a3a3a" stroke-width="3.7" stroke-linecap="round" fill="none"/><path d="M-2.5,0.5 Q0,-0.9 2.5,0.5" stroke="#fff" stroke-width="2.5" stroke-linecap="round" fill="none"/><circle cx="-1.6" cy="0.1" r="0.75" fill="#777"/><circle cx="1.6" cy="0.1" r="0.75" fill="#777"/></g>
<g transform="translate(343.30 234.30) rotate(-73.7)"><path d="M-2.5,0.5 Q0,-0.9 2.5,0.5" stroke="#3a3a3a" stroke-width="3.7" stroke-linecap="round" fill="none"/><path d="M-2.5,0.5 Q0,-0.9 2.5,0.5" stroke="#fff" stroke-width="2.5" stroke-linecap="round" fill="none"/><circle cx="-1.6" cy="0.1" r="0.75" fill="#777"/><circle cx="1.6" cy="0.1" r="0.75" fill="#777"/></g>
<g transform="translate(347.50 240.40) rotate(-51.8)"><path d="M-2.5,0.5 Q0,-0.9 2.5,0.5" stroke="#3a3a3a" stroke-width="3.7" stroke-linecap="round" fill="none"/><path d="M-2.5,0.5 Q0,-0.9 2.5,0.5" stroke="#fff" stroke-width="2.5" stroke-linecap="round" fill="none"/><circle cx="-1.6" cy="0.1" r="0.75" fill="#777"/><circle cx="1.6" cy="0.1" r="0.75" fill="#777"/></g>
<g transform="translate(348.90 250.20) rotate(-15.2)"><path d="M-2.5,0.5 Q0,-0.9 2.5,0.5" stroke="#3a3a3a" stroke-width="3.7" stroke-linecap="round" fill="none"/><path d="M-2.5,0.5 Q0,-0.9 2.5,0.5" stroke="#fff" stroke-width="2.5" stroke-linecap="round" fill="none"/><circle cx="-1.6" cy="0.1" r="0.75" fill="#777"/><circle cx="1.6" cy="0.1" r="0.75" fill="#777"/></g>
<g transform="translate(345.20 258.70) rotate(15.8)"><path d="M-2.5,0.5 Q0,-0.9 2.5,0.5" stroke="#3a3a3a" stroke-width="3.7" stroke-linecap="round" fill="none"/><path d="M-2.5,0.5 Q0,-0.9 2.5,0.5" stroke="#fff" stroke-width="2.5" stroke-linecap="round" fill="none"/><circle cx="-1.6" cy="0.1" r="0.75" fill="#777"/><circle cx="1.6" cy="0.1" r="0.75" fill="#777"/></g>
<g transform="translate(338.60 263.30) rotate(35.6)"><path d="M-2.5,0.5 Q0,-0.9 2.5,0.5" stroke="#3a3a3a" stroke-width="3.7" stroke-linecap="round" fill="none"/><path d="M-2.5,0.5 Q0,-0.9 2.5,0.5" stroke="#fff" stroke-width="2.5" stroke-linecap="round" fill="none"/><circle cx="-1.6" cy="0.1" r="0.75" fill="#777"/><circle cx="1.6" cy="0.1" r="0.75" fill="#777"/></g>
<g transform="translate(331.60 266.20) rotate(51.1)"><path d="M-2.5,0.5 Q0,-0.9 2.5,0.5" stroke="#3a3a3a" stroke-width="3.7" stroke-linecap="round" fill="none"/><path d="M-2.5,0.5 Q0,-0.9 2.5,0.5" stroke="#fff" stroke-width="2.5" stroke-linecap="round" fill="none"/><circle cx="-1.6" cy="0.1" r="0.75" fill="#777"/><circle cx="1.6" cy="0.1" r="0.75" fill="#777"/></g>
<g transform="translate(323.60 267.10) rotate(65.7)"><path d="M-2.5,0.5 Q0,-0.9 2.5,0.5" stroke="#3a3a3a" stroke-width="3.7" stroke-linecap="round" fill="none"/><path d="M-2.5,0.5 Q0,-0.9 2.5,0.5" stroke="#fff" stroke-width="2.5" stroke-linecap="round" fill="none"/><circle cx="-1.6" cy="0.1" r="0.75" fill="#777"/><circle cx="1.6" cy="0.1" r="0.75" fill="#777"/></g>
<g transform="translate(316.10 266.60) rotate(79.1)"><path d="M-2.5,0.5 Q0,-0.9 2.5,0.5" stroke="#3a3a3a" stroke-width="3.7" stroke-linecap="round" fill="none"/><path d="M-2.5,0.5 Q0,-0.9 2.5,0.5" stroke="#fff" stroke-width="2.5" stroke-linecap="round" fill="none"/><circle cx="-1.6" cy="0.1" r="0.75" fill="#777"/><circle cx="1.6" cy="0.1" r="0.75" fill="#777"/></g>
<g transform="translate(309.10 263.30) rotate(94.9)"><path d="M-2.5,0.5 Q0,-0.9 2.5,0.5" stroke="#3a3a3a" stroke-width="3.7" stroke-linecap="round" fill="none"/><path d="M-2.5,0.5 Q0,-0.9 2.5,0.5" stroke="#fff" stroke-width="2.5" stroke-linecap="round" fill="none"/><circle cx="-1.6" cy="0.1" r="0.75" fill="#777"/><circle cx="1.6" cy="0.1" r="0.75" fill="#777"/></g>
<g transform="translate(303.00 259.10) rotate(112.9)"><path d="M-2.5,0.5 Q0,-0.9 2.5,0.5" stroke="#3a3a3a" stroke-width="3.7" stroke-linecap="round" fill="none"/><path d="M-2.5,0.5 Q0,-0.9 2.5,0.5" stroke="#fff" stroke-width="2.5" stroke-linecap="round" fill="none"/><circle cx="-1.6" cy="0.1" r="0.75" fill="#777"/><circle cx="1.6" cy="0.1" r="0.75" fill="#777"/></g>
<g transform="translate(298.30 252.10) rotate(138.9)"><path d="M-2.5,0.5 Q0,-0.9 2.5,0.5" stroke="#3a3a3a" stroke-width="3.7" stroke-linecap="round" fill="none"/><path d="M-2.5,0.5 Q0,-0.9 2.5,0.5" stroke="#fff" stroke-width="2.5" stroke-linecap="round" fill="none"/><circle cx="-1.6" cy="0.1" r="0.75" fill="#777"/><circle cx="1.6" cy="0.1" r="0.75" fill="#777"/></g>
<g transform="translate(297.80 244.10) rotate(-192.6)"><path d="M-2.5,0.5 Q0,-0.9 2.5,0.5" stroke="#3a3a3a" stroke-width="3.7" stroke-linecap="round" fill="none"/><path d="M-2.5,0.5 Q0,-0.9 2.5,0.5" stroke="#fff" stroke-width="2.5" stroke-linecap="round" fill="none"/><circle cx="-1.6" cy="0.1" r="0.75" fill="#777"/><circle cx="1.6" cy="0.1" r="0.75" fill="#777"/></g>
<g transform="translate(301.60 236.20) rotate(-165.0)"><path d="M-2.5,0.5 Q0,-0.9 2.5,0.5" stroke="#3a3a3a" stroke-width="3.7" stroke-linecap="round" fill="none"/><path d="M-2.5,0.5 Q0,-0.9 2.5,0.5" stroke="#fff" stroke-width="2.5" stroke-linecap="round" fill="none"/><circle cx="-1.6" cy="0.1" r="0.75" fill="#777"/><circle cx="1.6" cy="0.1" r="0.75" fill="#777"/></g>
<g transform="translate(309.10 231.00) rotate(-143.5)"><path d="M-2.5,0.5 Q0,-0.9 2.5,0.5" stroke="#3a3a3a" stroke-width="3.7" stroke-linecap="round" fill="none"/><path d="M-2.5,0.5 Q0,-0.9 2.5,0.5" stroke="#fff" stroke-width="2.5" stroke-linecap="round" fill="none"/><circle cx="-1.6" cy="0.1" r="0.75" fill="#777"/><circle cx="1.6" cy="0.1" r="0.75" fill="#777"/></g>
<path d="M290.5,246 C290.5,225 305,207.8 324,207.8 C343,207.8 357.3,225 357.3,246" stroke="#2a2a2a" stroke-width="0.9" fill="none" stroke-linejoin="round" stroke-linecap="round"/>
<ellipse cx="324.1" cy="247" rx="32.8" ry="26.7" stroke="#2a2a2a" stroke-width="0.9" fill="none" stroke-linejoin="round" stroke-linecap="round"/>
<ellipse cx="324.1" cy="247.2" rx="31.2" ry="25.1" stroke="#2a2a2a" stroke-width="0.9" fill="none" stroke-linejoin="round" stroke-linecap="round"/>
<ellipse cx="323.9" cy="247.6" rx="16.6" ry="11" stroke="#2a2a2a" stroke-width="0.9" fill="none" stroke-linejoin="round" stroke-linecap="round"/>
<ellipse cx="324.1" cy="247.9" rx="4.2" ry="2.7" stroke="#2a2a2a" stroke-width="0.9" fill="none" stroke-linejoin="round" stroke-linecap="round"/>
<path d="M321.5,238.6 L322.5,240.4 M323,238.6 L322,240.4 M325,238.6 L326,240.4 M326.5,238.6 L325.5,240.4" stroke="#2a2a2a" stroke-width="0.9" fill="none" stroke-linejoin="round" stroke-linecap="round"/>
<path d="M316.5,249.5 L317.2,253.5 L319.5,251.2 M331.5,249.5 L330.8,253.5 L328.5,251.2" stroke="#2a2a2a" stroke-width="0.9" fill="none" stroke-linejoin="round" stroke-linecap="round"/>
<path d="M434.4,448.6 V493.1 M434.4,523.2 V566.7 M434.4,448.4 H544 M434.4,566.7 H513" stroke="#a2a2a2" stroke-width="0.75" fill="none"/>
<path d="M434.40,448.80 L435.80,455.80 L433.00,455.80 Z" fill="#808080" stroke="none"/>
<path d="M434.40,566.50 L433.00,559.50 L435.80,559.50 Z" fill="#808080" stroke="none"/>
<g transform="rotate(-90 441.3 508.2)"><path d="M432.53,508.20 L430.86,508.20 L430.86,497.56 C430.46,497.94 429.93,498.33 429.28,498.70 C428.62,499.09 428.04,499.38 427.52,499.57 L427.52,497.96 C428.46,497.52 429.27,496.99 429.97,496.38 C430.66,495.76 431.16,495.17 431.45,494.60 L432.53,494.60 Z" fill="#111"/><text x="436.02" y="508.2" font-size="19" fill="#111">5</text><text x="446.58" y="508.2" font-size="19" fill="#111">4</text></g>
<path d="M473.5,520.8 V534.1 M473.5,554.4 V566.7 M473.5,520.6 H542.5" stroke="#a2a2a2" stroke-width="0.75" fill="none"/>
<path d="M473.50,521.00 L474.90,528.00 L472.10,528.00 Z" fill="#808080" stroke="none"/>
<path d="M473.50,566.50 L472.10,559.50 L474.90,559.50 Z" fill="#808080" stroke="none"/>
<g transform="rotate(-90 480.4 544.3)"><text x="469.83" y="544.3" font-size="19" fill="#111">6</text><text x="480.40" y="544.3" font-size="19" fill="#111">0</text></g>
<path d="M522.3,567 V670 M649.5,590 V670 M522.3,668.6 H570.6 M600.4,668.6 H649.5" stroke="#a2a2a2" stroke-width="0.75" fill="none"/>
<path d="M522.50,668.60 L529.50,667.20 L529.50,670.00 Z" fill="#808080" stroke="none"/>
<path d="M649.30,668.60 L642.30,670.00 L642.30,667.20 Z" fill="#808080" stroke="none"/>
<g><path d="M576.83,675.60 L575.16,675.60 L575.16,664.96 C574.76,665.34 574.23,665.73 573.58,666.10 C572.92,666.49 572.34,666.78 571.82,666.97 L571.82,665.36 C572.76,664.92 573.57,664.39 574.27,663.78 C574.96,663.16 575.46,662.57 575.75,662.00 L576.83,662.00 Z" fill="#111"/><text x="580.32" y="675.6" font-size="19" fill="#111">6</text><text x="590.88" y="675.6" font-size="19" fill="#111">5</text></g>
<path d="M503.4,551 V698 M613.6,571 V698 M503.4,696.2 H544.3 M573.5,696.2 H613.6" stroke="#a2a2a2" stroke-width="0.75" fill="none"/>
<path d="M503.60,696.20 L510.60,694.80 L510.60,697.60 Z" fill="#808080" stroke="none"/>
<path d="M613.40,696.20 L606.40,697.60 L606.40,694.80 Z" fill="#808080" stroke="none"/>
<g><path d="M550.13,703.70 L548.46,703.70 L548.46,693.06 C548.06,693.44 547.53,693.83 546.88,694.20 C546.22,694.59 545.64,694.88 545.12,695.07 L545.12,693.46 C546.06,693.02 546.87,692.49 547.57,691.88 C548.26,691.26 548.76,690.67 549.05,690.10 L550.13,690.10 Z" fill="#111"/><text x="553.62" y="703.7" font-size="19" fill="#111">4</text><path d="M571.26,703.70 L569.59,703.70 L569.59,693.06 C569.19,693.44 568.66,693.83 568.01,694.20 C567.36,694.59 566.77,694.88 566.25,695.07 L566.25,693.46 C567.19,693.02 568.01,692.49 568.70,691.88 C569.40,691.26 569.90,690.67 570.19,690.10 L571.26,690.10 Z" fill="#111"/></g>
<path d="M649.5,342.3 V598" stroke="#222" stroke-width="1" fill="none"/>
<path d="M649.5,350.1 L664.7,365.3 M649.5,363.9 L664.7,379.1 M649.5,377.7 L664.7,392.9 M649.5,391.5 L664.7,406.7 M649.5,405.3 L664.7,420.5 M649.5,419.2 L664.7,434.4 M649.5,433.0 L664.7,448.2 M649.5,446.8 L664.7,462.0 M649.5,460.6 L664.7,475.8 M649.5,474.4 L664.7,489.6 M649.5,488.2 L664.7,503.4 M649.5,502.0 L664.7,517.2 M649.5,515.8 L664.7,531.0 M649.5,529.6 L664.7,544.8 M649.5,543.4 L664.7,558.6 M649.5,557.2 L658.8,566.5 M649.5,584.8 L664.8,599.6 M649.5,598.6 L653.8,602.6 M662.6,582.5 L664.8,585.2 M657.8,345.1 L664.6,351.4" stroke="#333" stroke-width="0.8" fill="none"/>
<rect x="649.5" y="567.4" width="13.5" height="15.1" fill="#111"/>
<path d="M647.4,553.3 V596 M648.8,553.3 V596 M647.4,553.3 L641.1,565.8 V583.5 L647.4,596" stroke="#2a2a2a" stroke-width="0.9" fill="none" stroke-linejoin="round" stroke-linecap="round"/>
<path d="M632.8,540.3 H638.5 L640.1,566 M632.8,583 H641.1" stroke="#2a2a2a" stroke-width="0.9" fill="none" stroke-linejoin="round" stroke-linecap="round"/>
<path d="M623.4,537.2 H616 C614.8,540 614.6,545 614.6,551 C614.6,557 614.8,562 616,564.8 H623.4 M614.8,544.5 H623.4 M614.8,557.5 H623.4" stroke="#2a2a2a" stroke-width="0.9" fill="none" stroke-linejoin="round" stroke-linecap="round"/>
<path d="M554.00,579.50 L562.80,578.50 M554.00,582.50 L562.80,581.50 M554.00,585.50 L562.80,584.50 M554.00,588.51 L562.80,587.51 M554.00,591.51 L562.80,590.51 M554.00,594.51 L562.80,593.51 M554.00,597.51 L562.80,596.51 M554.00,600.51 L562.80,599.51 M554.00,603.52 L562.80,602.52 M554.00,606.52 L562.80,605.52 M554.00,609.52 L562.80,608.52 M554.12,612.81 L562.83,611.23 M554.53,616.17 L563.08,613.84 M555.23,619.47 L563.55,616.42 M556.22,622.71 L564.24,618.95 M557.48,625.85 L565.14,621.41 M559.00,628.86 L566.25,623.78 M560.78,631.74 L567.57,626.05 M562.80,634.45 L569.07,628.20 M565.04,636.98 L570.75,630.21 M567.50,639.30 L572.60,632.07 M570.14,641.41 L574.61,633.76 M572.96,643.28 L576.75,635.27 M575.93,644.89 L579.01,636.59 M579.03,646.25 L581.38,637.71 M582.23,647.34 L583.84,638.63 M585.51,648.14 L586.37,639.33 M588.85,648.66 L588.95,639.81 M592.22,648.89 L591.56,640.06 M595.60,648.83 L594.18,640.09 M598.97,648.48 L596.79,639.89 M602.29,647.84 L599.38,639.47 M605.54,646.91 L601.92,638.83 M608.70,645.71 L604.40,637.97 M611.74,644.24 L606.79,636.90 M614.65,642.52 L609.08,635.62 M617.40,640.55 L611.26,634.16 M619.96,638.35 L613.30,632.51 M622.33,635.93 L615.19,630.70 M624.48,633.33 L616.92,628.72 M626.40,630.54 L618.47,626.61 M628.08,627.61 L619.83,624.37 M629.49,624.53 L621.00,622.02 M630.63,621.35 L621.95,619.58 M631.50,618.08 L622.70,617.07 M632.08,614.75 L623.22,614.50 M632.37,611.39 L623.52,611.89 M632.40,608.14 L623.60,609.14 M632.40,605.14 L623.60,606.14 M632.40,602.13 L623.60,603.13 M632.40,599.13 L623.60,600.13 M632.40,596.13 L623.60,597.13 M632.40,593.13 L623.60,594.13 M632.40,590.13 L623.60,591.13 M632.40,587.13 L623.60,588.13 M632.40,584.12 L623.60,585.12 M632.40,581.12 L623.60,582.12 M632.40,578.12 L623.60,579.12 M632.40,575.12 L623.60,576.12 M632.40,572.12 L623.60,573.12 M632.40,569.11 L623.60,570.11 M632.40,566.11 L623.60,567.11 M632.40,563.11 L623.60,564.11 M632.40,560.11 L623.60,561.11 M632.40,557.11 L623.60,558.11 M632.40,554.10 L623.60,555.10 M632.40,551.10 L623.60,552.10 M632.40,548.10 L623.60,549.10 M632.40,545.10 L623.60,546.10 M632.40,542.10 L623.60,543.10 M632.40,539.10 L623.60,540.10 M632.40,536.09 L623.60,537.09 M632.40,533.09 L623.60,534.09 M632.40,530.09 L623.60,531.09 M632.40,527.09 L623.60,528.09 M632.40,524.09 L623.60,525.09 M632.40,521.08 L623.60,522.08 M632.40,518.08 L623.60,519.08 M632.40,515.08 L623.60,516.08 M632.40,512.08 L623.60,513.08 M632.40,509.08 L623.60,510.08 M632.40,506.07 L623.60,507.07 M632.40,503.07 L623.60,504.07 M632.40,500.07 L623.60,501.07 M632.40,497.07 L623.60,498.07 M632.40,494.07 L623.60,495.07 M632.40,491.07 L623.60,492.07 M632.40,488.06 L623.60,489.06 M632.40,485.06 L623.60,486.06 M632.40,482.06 L623.60,483.06 M632.40,479.06 L623.60,480.06 M632.40,476.06 L623.60,477.06 M632.40,473.05 L623.60,474.05 M632.40,470.05 L623.60,471.05 M632.40,467.05 L623.60,468.05 M632.40,464.05 L623.60,465.05 M632.40,461.05 L623.60,462.05 M632.40,458.04 L623.60,459.04 M632.40,455.04 L623.60,456.04 M632.40,452.04 L623.60,453.04 M632.40,449.04 L623.60,450.04 M632.40,446.04 L623.60,447.04 M632.40,443.04 L623.60,444.04 M632.40,440.03 L623.60,441.03 M632.40,437.03 L623.60,438.03 M632.40,434.03 L623.60,435.03 M632.40,431.03 L623.60,432.03 M632.40,428.03 L623.60,429.03 M632.40,425.02 L623.60,426.02 M632.40,422.02 L623.60,423.02 M632.40,419.02 L623.60,420.02 M632.40,416.02 L623.60,417.02 M632.40,413.02 L623.60,414.02 M632.40,410.01 L623.60,411.01 M632.40,407.01 L623.60,408.01 M632.40,404.01 L623.60,405.01 M632.40,401.01 L623.60,402.01 M632.40,398.01 L623.60,399.01 M632.40,395.01 L623.60,396.01 M632.40,392.00 L623.60,393.00 M632.40,389.00 L623.60,390.00" fill="none" stroke="#555" stroke-width="1.15"/>
<path d="M553.70,578.00 L553.70,578.50 L553.70,579.00 L553.70,579.50 L553.70,580.00 L553.70,580.50 L553.70,581.00 L553.70,581.50 L553.70,582.00 L553.70,582.50 L553.70,583.00 L553.70,583.50 L553.70,584.00 L553.70,584.50 L553.70,585.00 L553.70,585.50 L553.70,586.01 L553.70,586.51 L553.70,587.01 L553.70,587.51 L553.70,588.01 L553.70,588.51 L553.70,589.01 L553.70,589.51 L553.70,590.01 L553.70,590.51 L553.70,591.01 L553.70,591.51 L553.70,592.01 L553.70,592.51 L553.70,593.01 L553.70,593.51 L553.70,594.01 L553.70,594.51 L553.70,595.01 L553.70,595.51 L553.70,596.01 L553.70,596.51 L553.70,597.01 L553.70,597.51 L553.70,598.01 L553.70,598.51 L553.70,599.01 L553.70,599.51 L553.70,600.01 L553.70,600.51 L553.70,601.01 L553.70,601.51 L553.70,602.02 L553.70,602.52 L553.70,603.02 L553.70,603.52 L553.70,604.02 L553.70,604.52 L553.70,605.02 L553.70,605.52 L553.70,606.02 L553.70,606.52 L553.70,607.02 L553.70,607.52 L553.70,608.02 L553.70,608.52 L553.70,609.02 L553.70,609.53 L553.70,610.07 L553.71,610.63 L553.73,611.20 L553.75,611.77 L553.79,612.33 L553.83,612.90 L553.88,613.46 L553.94,614.03 L554.00,614.59 L554.08,615.16 L554.16,615.72 L554.25,616.28 L554.35,616.84 L554.46,617.40 L554.57,617.95 L554.69,618.51 L554.82,619.06 L554.96,619.61 L555.11,620.16 L555.26,620.71 L555.43,621.25 L555.60,621.79 L555.77,622.33 L555.96,622.87 L556.15,623.40 L556.35,623.93 L556.56,624.46 L556.78,624.99 L557.00,625.51 L557.23,626.03 L557.47,626.54 L557.72,627.05 L557.97,627.56 L558.23,628.07 L558.50,628.57 L558.77,629.07 L559.05,629.56 L559.34,630.05 L559.64,630.53 L559.94,631.01 L560.25,631.49 L560.57,631.96 L560.89,632.43 L561.22,632.89 L561.56,633.35 L561.90,633.80 L562.25,634.25 L562.61,634.69 L562.97,635.12 L563.34,635.56 L563.71,635.98 L564.09,636.40 L564.48,636.82 L564.87,637.23 L565.27,637.63 L565.68,638.03 L566.09,638.43 L566.50,638.81 L566.93,639.19 L567.35,639.57 L567.78,639.94 L568.22,640.30 L568.66,640.66 L569.11,641.00 L569.56,641.35 L570.02,641.68 L570.48,642.01 L570.95,642.34 L571.42,642.65 L571.90,642.96 L572.38,643.27 L572.86,643.56 L573.35,643.85 L573.84,644.13 L574.34,644.41 L574.84,644.68 L575.35,644.94 L575.86,645.19 L576.37,645.43 L576.88,645.67 L577.40,645.90 L577.92,646.13 L578.45,646.34 L578.98,646.55 L579.51,646.75 L580.04,646.94 L580.58,647.13 L581.12,647.31 L581.66,647.48 L582.21,647.64 L582.75,647.79 L583.30,647.94 L583.85,648.08 L584.40,648.21 L584.96,648.33 L585.52,648.45 L586.07,648.55 L586.63,648.65 L587.19,648.74 L587.75,648.82 L588.32,648.90 L588.88,648.96 L589.45,649.02 L590.01,649.07 L590.58,649.11 L591.15,649.15 L591.71,649.17 L592.28,649.19 L592.85,649.20 L593.42,649.20 L593.98,649.19 L594.55,649.18 L595.12,649.15 L595.69,649.12 L596.25,649.08 L596.82,649.03 L597.38,648.98 L597.95,648.91 L598.51,648.84 L599.07,648.76 L599.63,648.67 L600.19,648.58 L600.75,648.47 L601.31,648.36 L601.86,648.24 L602.42,648.11 L602.97,647.97 L603.52,647.83 L604.06,647.68 L604.61,647.52 L605.15,647.35 L605.69,647.17 L606.23,646.99 L606.76,646.80 L607.30,646.60 L607.82,646.39 L608.35,646.18 L608.87,645.96 L609.39,645.73 L609.91,645.49 L610.42,645.25 L610.93,645.00 L611.44,644.74 L611.94,644.47 L612.44,644.20 L612.93,643.92 L613.42,643.63 L613.91,643.34 L614.39,643.04 L614.86,642.73 L615.34,642.41 L615.81,642.09 L616.27,641.76 L616.73,641.43 L617.18,641.09 L617.63,640.74 L618.07,640.38 L618.51,640.02 L618.95,639.66 L619.37,639.28 L619.80,638.90 L620.21,638.52 L620.62,638.13 L621.03,637.73 L621.43,637.33 L621.82,636.92 L622.21,636.50 L622.60,636.08 L622.97,635.66 L623.34,635.23 L623.71,634.79 L624.06,634.35 L624.41,633.91 L624.76,633.45 L625.10,633.00 L625.43,632.54 L625.75,632.07 L626.07,631.60 L626.38,631.13 L626.69,630.65 L626.99,630.16 L627.28,629.68 L627.56,629.18 L627.84,628.69 L628.11,628.19 L628.37,627.68 L628.62,627.18 L628.87,626.67 L629.11,626.15 L629.34,625.63 L629.57,625.11 L629.79,624.59 L630.00,624.06 L630.20,623.53 L630.40,623.00 L630.58,622.46 L630.76,621.92 L630.93,621.38 L631.10,620.84 L631.25,620.29 L631.40,619.74 L631.54,619.19 L631.68,618.64 L631.80,618.08 L631.92,617.53 L632.02,616.97 L632.13,616.41 L632.22,615.85 L632.30,615.29 L632.38,614.73 L632.45,614.16 L632.51,613.60 L632.56,613.03 L632.60,612.47 L632.64,611.90 L632.67,611.33 L632.69,610.77 L632.70,610.20 L632.70,609.65 L632.70,609.14 L632.70,608.64 L632.70,608.14 L632.70,607.64 L632.70,607.14 L632.70,606.64 L632.70,606.14 L632.70,605.64 L632.70,605.14 L632.70,604.64 L632.70,604.14 L632.70,603.64 L632.70,603.14 L632.70,602.63 L632.70,602.13 L632.70,601.63 L632.70,601.13 L632.70,600.63 L632.70,600.13 L632.70,599.63 L632.70,599.13 L632.70,598.63 L632.70,598.13 L632.70,597.63 L632.70,597.13 L632.70,596.63 L632.70,596.13 L632.70,595.63 L632.70,595.13 L632.70,594.63 L632.70,594.13 L632.70,593.63 L632.70,593.13 L632.70,592.63 L632.70,592.13 L632.70,591.63 L632.70,591.13 L632.70,590.63 L632.70,590.13 L632.70,589.63 L632.70,589.13 L632.70,588.63 L632.70,588.13 L632.70,587.63 L632.70,587.13 L632.70,586.62 L632.70,586.12 L632.70,585.62 L632.70,585.12 L632.70,584.62 L632.70,584.12 L632.70,583.62 L632.70,583.12 L632.70,582.62 L632.70,582.12 L632.70,581.62 L632.70,581.12 L632.70,580.62 L632.70,580.12 L632.70,579.62 L632.70,579.12 L632.70,578.62 L632.70,578.12 L632.70,577.62 L632.70,577.12 L632.70,576.62 L632.70,576.12 L632.70,575.62 L632.70,575.12 L632.70,574.62 L632.70,574.12 L632.70,573.62 L632.70,573.12 L632.70,572.62 L632.70,572.12 L632.70,571.62 L632.70,571.12 L632.70,570.61 L632.70,570.11 L632.70,569.61 L632.70,569.11 L632.70,568.61 L632.70,568.11 L632.70,567.61 L632.70,567.11 L632.70,566.61 L632.70,566.11 L632.70,565.61 L632.70,565.11 L632.70,564.61 L632.70,564.11 L632.70,563.61 L632.70,563.11 L632.70,562.61 L632.70,562.11 L632.70,561.61 L632.70,561.11 L632.70,560.61 L632.70,560.11 L632.70,559.61 L632.70,559.11 L632.70,558.61 L632.70,558.11 L632.70,557.61 L632.70,557.11 L632.70,556.61 L632.70,556.11 L632.70,555.61 L632.70,555.11 L632.70,554.60 L632.70,554.10 L632.70,553.60 L632.70,553.10 L632.70,552.60 L632.70,552.10 L632.70,551.60 L632.70,551.10 L632.70,550.60 L632.70,550.10 L632.70,549.60 L632.70,549.10 L632.70,548.60 L632.70,548.10 L632.70,547.60 L632.70,547.10 L632.70,546.60 L632.70,546.10 L632.70,545.60 L632.70,545.10 L632.70,544.60 L632.70,544.10 L632.70,543.60 L632.70,543.10 L632.70,542.60 L632.70,542.10 L632.70,541.60 L632.70,541.10 L632.70,540.60 L632.70,540.10 L632.70,539.60 L632.70,539.10 L632.70,538.59 L632.70,538.09 L632.70,537.59 L632.70,537.09 L632.70,536.59 L632.70,536.09 L632.70,535.59 L632.70,535.09 L632.70,534.59 L632.70,534.09 L632.70,533.59 L632.70,533.09 L632.70,532.59 L632.70,532.09 L632.70,531.59 L632.70,531.09 L632.70,530.59 L632.70,530.09 L632.70,529.59 L632.70,529.09 L632.70,528.59 L632.70,528.09 L632.70,527.59 L632.70,527.09 L632.70,526.59 L632.70,526.09 L632.70,525.59 L632.70,525.09 L632.70,524.59 L632.70,524.09 L632.70,523.59 L632.70,523.09 L632.70,522.58 L632.70,522.08 L632.70,521.58 L632.70,521.08 L632.70,520.58 L632.70,520.08 L632.70,519.58 L632.70,519.08 L632.70,518.58 L632.70,518.08 L632.70,517.58 L632.70,517.08 L632.70,516.58 L632.70,516.08 L632.70,515.58 L632.70,515.08 L632.70,514.58 L632.70,514.08 L632.70,513.58 L632.70,513.08 L632.70,512.58 L632.70,512.08 L632.70,511.58 L632.70,511.08 L632.70,510.58 L632.70,510.08 L632.70,509.58 L632.70,509.08 L632.70,508.58 L632.70,508.08 L632.70,507.58 L632.70,507.08 L632.70,506.57 L632.70,506.07 L632.70,505.57 L632.70,505.07 L632.70,504.57 L632.70,504.07 L632.70,503.57 L632.70,503.07 L632.70,502.57 L632.70,502.07 L632.70,501.57 L632.70,501.07 L632.70,500.57 L632.70,500.07 L632.70,499.57 L632.70,499.07 L632.70,498.57 L632.70,498.07 L632.70,497.57 L632.70,497.07 L632.70,496.57 L632.70,496.07 L632.70,495.57 L632.70,495.07 L632.70,494.57 L632.70,494.07 L632.70,493.57 L632.70,493.07 L632.70,492.57 L632.70,492.07 L632.70,491.57 L632.70,491.07 L632.70,490.56 L632.70,490.06 L632.70,489.56 L632.70,489.06 L632.70,488.56 L632.70,488.06 L632.70,487.56 L632.70,487.06 L632.70,486.56 L632.70,486.06 L632.70,485.56 L632.70,485.06 L632.70,484.56 L632.70,484.06 L632.70,483.56 L632.70,483.06 L632.70,482.56 L632.70,482.06 L632.70,481.56 L632.70,481.06 L632.70,480.56 L632.70,480.06 L632.70,479.56 L632.70,479.06 L632.70,478.56 L632.70,478.06 L632.70,477.56 L632.70,477.06 L632.70,476.56 L632.70,476.06 L632.70,475.56 L632.70,475.06 L632.70,474.55 L632.70,474.05 L632.70,473.55 L632.70,473.05 L632.70,472.55 L632.70,472.05 L632.70,471.55 L632.70,471.05 L632.70,470.55 L632.70,470.05 L632.70,469.55 L632.70,469.05 L632.70,468.55 L632.70,468.05 L632.70,467.55 L632.70,467.05 L632.70,466.55 L632.70,466.05 L632.70,465.55 L632.70,465.05 L632.70,464.55 L632.70,464.05 L632.70,463.55 L632.70,463.05 L632.70,462.55 L632.70,462.05 L632.70,461.55 L632.70,461.05 L632.70,460.55 L632.70,460.05 L632.70,459.55 L632.70,459.05 L632.70,458.54 L632.70,458.04 L632.70,457.54 L632.70,457.04 L632.70,456.54 L632.70,456.04 L632.70,455.54 L632.70,455.04 L632.70,454.54 L632.70,454.04 L632.70,453.54 L632.70,453.04 L632.70,452.54 L632.70,452.04 L632.70,451.54 L632.70,451.04 L632.70,450.54 L632.70,450.04 L632.70,449.54 L632.70,449.04 L632.70,448.54 L632.70,448.04 L632.70,447.54 L632.70,447.04 L632.70,446.54 L632.70,446.04 L632.70,445.54 L632.70,445.04 L632.70,444.54 L632.70,444.04 L632.70,443.54 L632.70,443.04 L632.70,442.53 L632.70,442.03 L632.70,441.53 L632.70,441.03 L632.70,440.53 L632.70,440.03 L632.70,439.53 L632.70,439.03 L632.70,438.53 L632.70,438.03 L632.70,437.53 L632.70,437.03 L632.70,436.53 L632.70,436.03 L632.70,435.53 L632.70,435.03 L632.70,434.53 L632.70,434.03 L632.70,433.53 L632.70,433.03 L632.70,432.53 L632.70,432.03 L632.70,431.53 L632.70,431.03 L632.70,430.53 L632.70,430.03 L632.70,429.53 L632.70,429.03 L632.70,428.53 L632.70,428.03 L632.70,427.53 L632.70,427.03 L632.70,426.52 L632.70,426.02 L632.70,425.52 L632.70,425.02 L632.70,424.52 L632.70,424.02 L632.70,423.52 L632.70,423.02 L632.70,422.52 L632.70,422.02 L632.70,421.52 L632.70,421.02 L632.70,420.52 L632.70,420.02 L632.70,419.52 L632.70,419.02 L632.70,418.52 L632.70,418.02 L632.70,417.52 L632.70,417.02 L632.70,416.52 L632.70,416.02 L632.70,415.52 L632.70,415.02 L632.70,414.52 L632.70,414.02 L632.70,413.52 L632.70,413.02 L632.70,412.52 L632.70,412.02 L632.70,411.52 L632.70,411.02 L632.70,410.51 L632.70,410.01 L632.70,409.51 L632.70,409.01 L632.70,408.51 L632.70,408.01 L632.70,407.51 L632.70,407.01 L632.70,406.51 L632.70,406.01 L632.70,405.51 L632.70,405.01 L632.70,404.51 L632.70,404.01 L632.70,403.51 L632.70,403.01 L632.70,402.51 L632.70,402.01 L632.70,401.51 L632.70,401.01 L632.70,400.51 L632.70,400.01 L632.70,399.51 L632.70,399.01 L632.70,398.51 L632.70,398.01 L632.70,397.51 L632.70,397.01 L632.70,396.51 L632.70,396.01 L632.70,395.51 L632.70,395.01 L632.70,394.50 L632.70,394.00 L632.70,393.50 L632.70,393.00 L632.70,392.50 L632.70,392.00 L632.70,391.50 L632.70,391.00 L632.70,390.50 L632.70,390.00 L632.70,389.50 L632.70,389.00 L632.70,388.50 L632.70,388.00 L632.70,387.50 L632.70,387.00" fill="none" stroke="#333" stroke-width="1.1"/>
<path d="M563.10,578.00 L563.10,578.50 L563.10,579.00 L563.10,579.50 L563.10,580.00 L563.10,580.50 L563.10,581.00 L563.10,581.50 L563.10,582.00 L563.10,582.50 L563.10,583.00 L563.10,583.50 L563.10,584.00 L563.10,584.50 L563.10,585.00 L563.10,585.50 L563.10,586.01 L563.10,586.51 L563.10,587.01 L563.10,587.51 L563.10,588.01 L563.10,588.51 L563.10,589.01 L563.10,589.51 L563.10,590.01 L563.10,590.51 L563.10,591.01 L563.10,591.51 L563.10,592.01 L563.10,592.51 L563.10,593.01 L563.10,593.51 L563.10,594.01 L563.10,594.51 L563.10,595.01 L563.10,595.51 L563.10,596.01 L563.10,596.51 L563.10,597.01 L563.10,597.51 L563.10,598.01 L563.10,598.51 L563.10,599.01 L563.10,599.51 L563.10,600.01 L563.10,600.51 L563.10,601.01 L563.10,601.51 L563.10,602.02 L563.10,602.52 L563.10,603.02 L563.10,603.52 L563.10,604.02 L563.10,604.52 L563.10,605.02 L563.10,605.52 L563.10,606.02 L563.10,606.52 L563.10,607.02 L563.10,607.52 L563.10,608.02 L563.10,608.52 L563.10,609.02 L563.10,609.51 L563.10,609.97 L563.11,610.41 L563.12,610.84 L563.14,611.27 L563.17,611.71 L563.20,612.14 L563.24,612.57 L563.28,613.00 L563.33,613.43 L563.39,613.86 L563.45,614.29 L563.52,614.71 L563.60,615.14 L563.68,615.56 L563.76,615.99 L563.86,616.41 L563.96,616.83 L564.06,617.25 L564.17,617.67 L564.29,618.09 L564.42,618.50 L564.54,618.91 L564.68,619.33 L564.82,619.73 L564.97,620.14 L565.12,620.55 L565.28,620.95 L565.45,621.35 L565.62,621.75 L565.79,622.14 L565.97,622.53 L566.16,622.92 L566.35,623.31 L566.55,623.70 L566.76,624.08 L566.97,624.46 L567.18,624.83 L567.40,625.20 L567.63,625.57 L567.86,625.94 L568.09,626.30 L568.33,626.66 L568.58,627.02 L568.83,627.37 L569.09,627.72 L569.35,628.06 L569.62,628.40 L569.89,628.74 L570.16,629.07 L570.45,629.40 L570.73,629.73 L571.02,630.05 L571.32,630.37 L571.62,630.68 L571.92,630.99 L572.23,631.29 L572.54,631.59 L572.86,631.88 L573.18,632.17 L573.50,632.46 L573.83,632.74 L574.17,633.02 L574.50,633.29 L574.84,633.55 L575.19,633.82 L575.54,634.07 L575.89,634.32 L576.25,634.57 L576.60,634.81 L576.97,635.05 L577.33,635.28 L577.70,635.50 L578.08,635.72 L578.45,635.94 L578.83,636.15 L579.21,636.35 L579.60,636.55 L579.98,636.74 L580.37,636.93 L580.77,637.11 L581.16,637.29 L581.56,637.46 L581.96,637.62 L582.36,637.78 L582.77,637.93 L583.17,638.08 L583.58,638.22 L583.99,638.36 L584.41,638.49 L584.82,638.61 L585.24,638.73 L585.66,638.84 L586.08,638.94 L586.50,639.04 L586.92,639.14 L587.34,639.22 L587.77,639.31 L588.20,639.38 L588.62,639.45 L589.05,639.51 L589.48,639.57 L589.91,639.62 L590.34,639.66 L590.77,639.70 L591.20,639.73 L591.63,639.76 L592.07,639.78 L592.50,639.79 L592.93,639.80 L593.36,639.80 L593.80,639.79 L594.23,639.78 L594.66,639.76 L595.09,639.74 L595.53,639.71 L595.96,639.67 L596.39,639.63 L596.82,639.58 L597.25,639.53 L597.68,639.47 L598.10,639.40 L598.53,639.32 L598.95,639.24 L599.38,639.16 L599.80,639.07 L600.22,638.97 L600.64,638.87 L601.06,638.76 L601.48,638.64 L601.89,638.52 L602.31,638.39 L602.72,638.26 L603.13,638.12 L603.54,637.97 L603.94,637.82 L604.34,637.66 L604.75,637.50 L605.14,637.33 L605.54,637.15 L605.93,636.97 L606.32,636.79 L606.71,636.60 L607.10,636.40 L607.48,636.20 L607.86,635.99 L608.24,635.78 L608.61,635.56 L608.98,635.33 L609.35,635.10 L609.71,634.87 L610.07,634.63 L610.43,634.38 L610.78,634.13 L611.13,633.88 L611.47,633.62 L611.82,633.35 L612.15,633.08 L612.49,632.81 L612.82,632.53 L613.14,632.24 L613.47,631.95 L613.78,631.66 L614.10,631.36 L614.41,631.06 L614.71,630.75 L615.01,630.44 L615.31,630.13 L615.60,629.81 L615.89,629.48 L616.17,629.15 L616.45,628.82 L616.72,628.49 L616.99,628.14 L617.25,627.80 L617.51,627.45 L617.76,627.10 L618.01,626.75 L618.25,626.39 L618.49,626.03 L618.72,625.66 L618.95,625.29 L619.17,624.92 L619.38,624.55 L619.59,624.17 L619.80,623.79 L620.00,623.40 L620.19,623.02 L620.38,622.63 L620.57,622.24 L620.74,621.84 L620.91,621.44 L621.08,621.04 L621.24,620.64 L621.40,620.24 L621.54,619.83 L621.69,619.42 L621.82,619.01 L621.95,618.60 L622.08,618.19 L622.20,617.77 L622.31,617.35 L622.42,616.93 L622.52,616.51 L622.61,616.09 L622.70,615.67 L622.79,615.24 L622.86,614.82 L622.93,614.39 L623.00,613.96 L623.06,613.53 L623.11,613.10 L623.15,612.67 L623.19,612.24 L623.23,611.81 L623.25,611.38 L623.27,610.95 L623.29,610.51 L623.30,610.08 L623.30,609.63 L623.30,609.14 L623.30,608.64 L623.30,608.14 L623.30,607.64 L623.30,607.14 L623.30,606.64 L623.30,606.14 L623.30,605.64 L623.30,605.14 L623.30,604.64 L623.30,604.14 L623.30,603.64 L623.30,603.14 L623.30,602.63 L623.30,602.13 L623.30,601.63 L623.30,601.13 L623.30,600.63 L623.30,600.13 L623.30,599.63 L623.30,599.13 L623.30,598.63 L623.30,598.13 L623.30,597.63 L623.30,597.13 L623.30,596.63 L623.30,596.13 L623.30,595.63 L623.30,595.13 L623.30,594.63 L623.30,594.13 L623.30,593.63 L623.30,593.13 L623.30,592.63 L623.30,592.13 L623.30,591.63 L623.30,591.13 L623.30,590.63 L623.30,590.13 L623.30,589.63 L623.30,589.13 L623.30,588.63 L623.30,588.13 L623.30,587.63 L623.30,587.13 L623.30,586.62 L623.30,586.12 L623.30,585.62 L623.30,585.12 L623.30,584.62 L623.30,584.12 L623.30,583.62 L623.30,583.12 L623.30,582.62 L623.30,582.12 L623.30,581.62 L623.30,581.12 L623.30,580.62 L623.30,580.12 L623.30,579.62 L623.30,579.12 L623.30,578.62 L623.30,578.12 L623.30,577.62 L623.30,577.12 L623.30,576.62 L623.30,576.12 L623.30,575.62 L623.30,575.12 L623.30,574.62 L623.30,574.12 L623.30,573.62 L623.30,573.12 L623.30,572.62 L623.30,572.12 L623.30,571.62 L623.30,571.12 L623.30,570.61 L623.30,570.11 L623.30,569.61 L623.30,569.11 L623.30,568.61 L623.30,568.11 L623.30,567.61 L623.30,567.11 L623.30,566.61 L623.30,566.11 L623.30,565.61 L623.30,565.11 L623.30,564.61 L623.30,564.11 L623.30,563.61 L623.30,563.11 L623.30,562.61 L623.30,562.11 L623.30,561.61 L623.30,561.11 L623.30,560.61 L623.30,560.11 L623.30,559.61 L623.30,559.11 L623.30,558.61 L623.30,558.11 L623.30,557.61 L623.30,557.11 L623.30,556.61 L623.30,556.11 L623.30,555.61 L623.30,555.11 L623.30,554.60 L623.30,554.10 L623.30,553.60 L623.30,553.10 L623.30,552.60 L623.30,552.10 L623.30,551.60 L623.30,551.10 L623.30,550.60 L623.30,550.10 L623.30,549.60 L623.30,549.10 L623.30,548.60 L623.30,548.10 L623.30,547.60 L623.30,547.10 L623.30,546.60 L623.30,546.10 L623.30,545.60 L623.30,545.10 L623.30,544.60 L623.30,544.10 L623.30,543.60 L623.30,543.10 L623.30,542.60 L623.30,542.10 L623.30,541.60 L623.30,541.10 L623.30,540.60 L623.30,540.10 L623.30,539.60 L623.30,539.10 L623.30,538.59 L623.30,538.09 L623.30,537.59 L623.30,537.09 L623.30,536.59 L623.30,536.09 L623.30,535.59 L623.30,535.09 L623.30,534.59 L623.30,534.09 L623.30,533.59 L623.30,533.09 L623.30,532.59 L623.30,532.09 L623.30,531.59 L623.30,531.09 L623.30,530.59 L623.30,530.09 L623.30,529.59 L623.30,529.09 L623.30,528.59 L623.30,528.09 L623.30,527.59 L623.30,527.09 L623.30,526.59 L623.30,526.09 L623.30,525.59 L623.30,525.09 L623.30,524.59 L623.30,524.09 L623.30,523.59 L623.30,523.09 L623.30,522.58 L623.30,522.08 L623.30,521.58 L623.30,521.08 L623.30,520.58 L623.30,520.08 L623.30,519.58 L623.30,519.08 L623.30,518.58 L623.30,518.08 L623.30,517.58 L623.30,517.08 L623.30,516.58 L623.30,516.08 L623.30,515.58 L623.30,515.08 L623.30,514.58 L623.30,514.08 L623.30,513.58 L623.30,513.08 L623.30,512.58 L623.30,512.08 L623.30,511.58 L623.30,511.08 L623.30,510.58 L623.30,510.08 L623.30,509.58 L623.30,509.08 L623.30,508.58 L623.30,508.08 L623.30,507.58 L623.30,507.08 L623.30,506.57 L623.30,506.07 L623.30,505.57 L623.30,505.07 L623.30,504.57 L623.30,504.07 L623.30,503.57 L623.30,503.07 L623.30,502.57 L623.30,502.07 L623.30,501.57 L623.30,501.07 L623.30,500.57 L623.30,500.07 L623.30,499.57 L623.30,499.07 L623.30,498.57 L623.30,498.07 L623.30,497.57 L623.30,497.07 L623.30,496.57 L623.30,496.07 L623.30,495.57 L623.30,495.07 L623.30,494.57 L623.30,494.07 L623.30,493.57 L623.30,493.07 L623.30,492.57 L623.30,492.07 L623.30,491.57 L623.30,491.07 L623.30,490.56 L623.30,490.06 L623.30,489.56 L623.30,489.06 L623.30,488.56 L623.30,488.06 L623.30,487.56 L623.30,487.06 L623.30,486.56 L623.30,486.06 L623.30,485.56 L623.30,485.06 L623.30,484.56 L623.30,484.06 L623.30,483.56 L623.30,483.06 L623.30,482.56 L623.30,482.06 L623.30,481.56 L623.30,481.06 L623.30,480.56 L623.30,480.06 L623.30,479.56 L623.30,479.06 L623.30,478.56 L623.30,478.06 L623.30,477.56 L623.30,477.06 L623.30,476.56 L623.30,476.06 L623.30,475.56 L623.30,475.06 L623.30,474.55 L623.30,474.05 L623.30,473.55 L623.30,473.05 L623.30,472.55 L623.30,472.05 L623.30,471.55 L623.30,471.05 L623.30,470.55 L623.30,470.05 L623.30,469.55 L623.30,469.05 L623.30,468.55 L623.30,468.05 L623.30,467.55 L623.30,467.05 L623.30,466.55 L623.30,466.05 L623.30,465.55 L623.30,465.05 L623.30,464.55 L623.30,464.05 L623.30,463.55 L623.30,463.05 L623.30,462.55 L623.30,462.05 L623.30,461.55 L623.30,461.05 L623.30,460.55 L623.30,460.05 L623.30,459.55 L623.30,459.05 L623.30,458.54 L623.30,458.04 L623.30,457.54 L623.30,457.04 L623.30,456.54 L623.30,456.04 L623.30,455.54 L623.30,455.04 L623.30,454.54 L623.30,454.04 L623.30,453.54 L623.30,453.04 L623.30,452.54 L623.30,452.04 L623.30,451.54 L623.30,451.04 L623.30,450.54 L623.30,450.04 L623.30,449.54 L623.30,449.04 L623.30,448.54 L623.30,448.04 L623.30,447.54 L623.30,447.04 L623.30,446.54 L623.30,446.04 L623.30,445.54 L623.30,445.04 L623.30,444.54 L623.30,444.04 L623.30,443.54 L623.30,443.04 L623.30,442.53 L623.30,442.03 L623.30,441.53 L623.30,441.03 L623.30,440.53 L623.30,440.03 L623.30,439.53 L623.30,439.03 L623.30,438.53 L623.30,438.03 L623.30,437.53 L623.30,437.03 L623.30,436.53 L623.30,436.03 L623.30,435.53 L623.30,435.03 L623.30,434.53 L623.30,434.03 L623.30,433.53 L623.30,433.03 L623.30,432.53 L623.30,432.03 L623.30,431.53 L623.30,431.03 L623.30,430.53 L623.30,430.03 L623.30,429.53 L623.30,429.03 L623.30,428.53 L623.30,428.03 L623.30,427.53 L623.30,427.03 L623.30,426.52 L623.30,426.02 L623.30,425.52 L623.30,425.02 L623.30,424.52 L623.30,424.02 L623.30,423.52 L623.30,423.02 L623.30,422.52 L623.30,422.02 L623.30,421.52 L623.30,421.02 L623.30,420.52 L623.30,420.02 L623.30,419.52 L623.30,419.02 L623.30,418.52 L623.30,418.02 L623.30,417.52 L623.30,417.02 L623.30,416.52 L623.30,416.02 L623.30,415.52 L623.30,415.02 L623.30,414.52 L623.30,414.02 L623.30,413.52 L623.30,413.02 L623.30,412.52 L623.30,412.02 L623.30,411.52 L623.30,411.02 L623.30,410.51 L623.30,410.01 L623.30,409.51 L623.30,409.01 L623.30,408.51 L623.30,408.01 L623.30,407.51 L623.30,407.01 L623.30,406.51 L623.30,406.01 L623.30,405.51 L623.30,405.01 L623.30,404.51 L623.30,404.01 L623.30,403.51 L623.30,403.01 L623.30,402.51 L623.30,402.01 L623.30,401.51 L623.30,401.01 L623.30,400.51 L623.30,400.01 L623.30,399.51 L623.30,399.01 L623.30,398.51 L623.30,398.01 L623.30,397.51 L623.30,397.01 L623.30,396.51 L623.30,396.01 L623.30,395.51 L623.30,395.01 L623.30,394.50 L623.30,394.00 L623.30,393.50 L623.30,393.00 L623.30,392.50 L623.30,392.00 L623.30,391.50 L623.30,391.00 L623.30,390.50 L623.30,390.00 L623.30,389.50 L623.30,389.00 L623.30,388.50 L623.30,388.00 L623.30,387.50 L623.30,387.00" fill="none" stroke="#333" stroke-width="1.1"/>
<path d="M619.5,362.2 L649.3,356.3 M614.7,363.8 C612.2,366 611.6,371 612.3,374 C613.5,380 617.5,385 623,386.8 H649.3 M619.5,362.2 C617.5,362.4 616,363 614.7,363.8" stroke="#2a2a2a" stroke-width="0.9" fill="none" stroke-linejoin="round" stroke-linecap="round"/>
<path d="M590.2,289.5 C600,300 612,325 616.5,345 C618.3,352 619.3,357 619.7,361.5" stroke="#2a2a2a" stroke-width="0.9" fill="none" stroke-linejoin="round" stroke-linecap="round"/>
<path d="M548.1,220.3 L576,238.8 C590,249.5 602,262 612,276.5 C619,287 625,298 628.5,308.3 C633,320 636,340 637.3,357.7" stroke="#2a2a2a" stroke-width="0.9" fill="none" stroke-linejoin="round" stroke-linecap="round"/>
<path d="M529.1,231 L541.6,221.7 Q544.5,219.9 548.1,220.3 M529.1,231 L568.5,286.6 L574.4,294.2 L583.7,280.2 L581.4,276.7 L541.6,221.7 M568.9,286 L581.4,277.3 M583.7,280.2 L590.2,289.5" stroke="#2a2a2a" stroke-width="0.9" fill="none" stroke-linejoin="round" stroke-linecap="round"/>
<g transform="translate(532.90 237.10) rotate(54.7)"><rect x="-2.7" y="-0.1" width="5.4" height="2.2" stroke="#2a2a2a" stroke-width="0.9" fill="none" stroke-linejoin="round" stroke-linecap="round"/></g>
<g transform="translate(539.30 246.40) rotate(54.7)"><rect x="-2.7" y="-0.1" width="5.4" height="2.2" stroke="#2a2a2a" stroke-width="0.9" fill="none" stroke-linejoin="round" stroke-linecap="round"/></g>
<g transform="translate(545.70 255.20) rotate(54.7)"><rect x="-2.7" y="-0.1" width="5.4" height="2.2" stroke="#2a2a2a" stroke-width="0.9" fill="none" stroke-linejoin="round" stroke-linecap="round"/></g>
<g transform="translate(551.60 264.00) rotate(54.7)"><rect x="-2.7" y="-0.1" width="5.4" height="2.2" stroke="#2a2a2a" stroke-width="0.9" fill="none" stroke-linejoin="round" stroke-linecap="round"/></g>
<g transform="translate(558.00 272.80) rotate(54.7)"><rect x="-2.7" y="-0.1" width="5.4" height="2.2" stroke="#2a2a2a" stroke-width="0.9" fill="none" stroke-linejoin="round" stroke-linecap="round"/></g>
<g transform="translate(564.50 281.50) rotate(54.7)"><rect x="-2.7" y="-0.1" width="5.4" height="2.2" stroke="#2a2a2a" stroke-width="0.9" fill="none" stroke-linejoin="round" stroke-linecap="round"/></g>
<path d="M545.2,448.4 C565,460 595,480 613,495.6 M543.6,450.8 C555,458 572,470 590,487.8 M543.6,450.8 Q543.2,449 545.2,448.4" stroke="#2a2a2a" stroke-width="0.9" fill="none" stroke-linejoin="round" stroke-linecap="round"/>
<path d="M522.6,475.3 C545,476.3 575,481.5 613,495.6" stroke="#222" stroke-width="1.6" fill="none" stroke-linecap="round"/>
<path d="M522.5,478 C540,480 560,485.5 588.2,493.4 M522.5,475 L522.5,478" stroke="#2a2a2a" stroke-width="0.9" fill="none" stroke-linejoin="round" stroke-linecap="round"/>
<path d="M577.3,491.1 V531 C577,533 575,534.5 572.5,535.2" stroke="#1e1e1e" stroke-width="1.15" fill="none" stroke-linejoin="round" stroke-linecap="round"/>
<path d="M579.1,505.7 L586,488.9 Q590.5,497 593.3,511.9 L579.1,505.7 M594.8,492.2 Q595.5,501 594.1,510.1 M593.3,511.9 L613.8,503.5 M613,495.9 L618.5,503.9 L616.7,510.8 L612,511.9 M613,495.9 L613.8,503.5 M608.7,506.8 L610.8,512.3" stroke="#2a2a2a" stroke-width="0.9" fill="none" stroke-linejoin="round" stroke-linecap="round"/>
<path d="M583.2,494.5 L585.5,489.5" stroke="#111" stroke-width="1.6"/>
<path d="M577.3,498.5 V503" stroke="#111" stroke-width="1.6"/>
<path d="M578.8,513.2 H612.3" stroke="#666" stroke-width="1.1" fill="none"/>
<path d="M578.8,514.6 H612.3" stroke="#2a2a2a" stroke-width="0.9" fill="none" stroke-linejoin="round" stroke-linecap="round"/>
<path d="M612.3,514.6 L614,532.6 V571.6" stroke="#1e1e1e" stroke-width="1.15" fill="none" stroke-linejoin="round" stroke-linecap="round"/>
<path d="M503.1,551 C518,545 535,540 558,537 C565,536 570,535.5 574,535.2 Q595,533.6 613.8,532.9" stroke="#1e1e1e" stroke-width="1.15" fill="none" stroke-linejoin="round" stroke-linecap="round"/>
<path d="M506.5,550.6 C525,546 545,542 558,540.9 C568,539.8 578,538.6 587.3,538.2 L595.1,544.6 L613.8,539.9 M587.3,538.2 C586.6,545 588.6,557 590.4,570.4 M595.1,544.6 C593.6,552 592.4,560 591.6,569.8 M588.6,562.8 H613.9 M590.4,570.4 H613.9" stroke="#2a2a2a" stroke-width="0.9" fill="none" stroke-linejoin="round" stroke-linecap="round"/>
<path d="M503,550.9 C505,554 508,556.5 514.7,559.2 M532.3,561 L539.5,561.2 C541,562 542,564 543.4,564.8 L590,563.2" stroke="#1e1e1e" stroke-width="1.15" fill="none" stroke-linejoin="round" stroke-linecap="round"/>
<path d="M513.4,559.9 L532.3,561 L532.2,567 L514.5,566.4 Q513,565 513.4,559.9 Z" stroke="#1e1e1e" stroke-width="1.15" fill="none" stroke-linejoin="round" stroke-linecap="round"/>
<path d="M542.5,521 L562.3,519.4 L562.5,524.7 L542.7,525.9 Z M545.3,525.8 L545.5,537.2 M561.6,524.8 L561.4,537 M545.5,537.2 L547,538.8 H560 L561.4,537" stroke="#1e1e1e" stroke-width="1.15" fill="none" stroke-linejoin="round" stroke-linecap="round"/>
<path d="M543,525.3 L562.2,524.1" stroke="#222" stroke-width="1.5" fill="none"/>
<path d="M549.5,565.3 H564 C566.3,567 567.2,568.5 567.2,570.3 C567.2,572.2 566.3,573.8 564,575.4 H549.5 C547.2,573.8 546.5,572.2 546.5,570.3 C546.5,568.5 547.2,567 549.5,565.3 Z M551.6,565.3 C550.6,567 550.4,568.5 550.4,570.3 C550.4,572.2 550.6,573.8 551.6,575.4 M561.9,565.3 C562.9,567 563.1,568.5 563.1,570.3 C563.1,572.2 562.9,573.8 561.9,575.4" stroke="#2a2a2a" stroke-width="0.9" fill="none" stroke-linejoin="round" stroke-linecap="round"/>
<ellipse cx="556.8" cy="570.3" rx="4.5" ry="4.5" stroke="#2a2a2a" stroke-width="0.9" fill="none" stroke-linejoin="round" stroke-linecap="round"/>
<path d="M552.2,575.4 V578.1 H562.3 V575.4" stroke="#2a2a2a" stroke-width="0.9" fill="none" stroke-linejoin="round" stroke-linecap="round"/>
</svg>
</body></html>
